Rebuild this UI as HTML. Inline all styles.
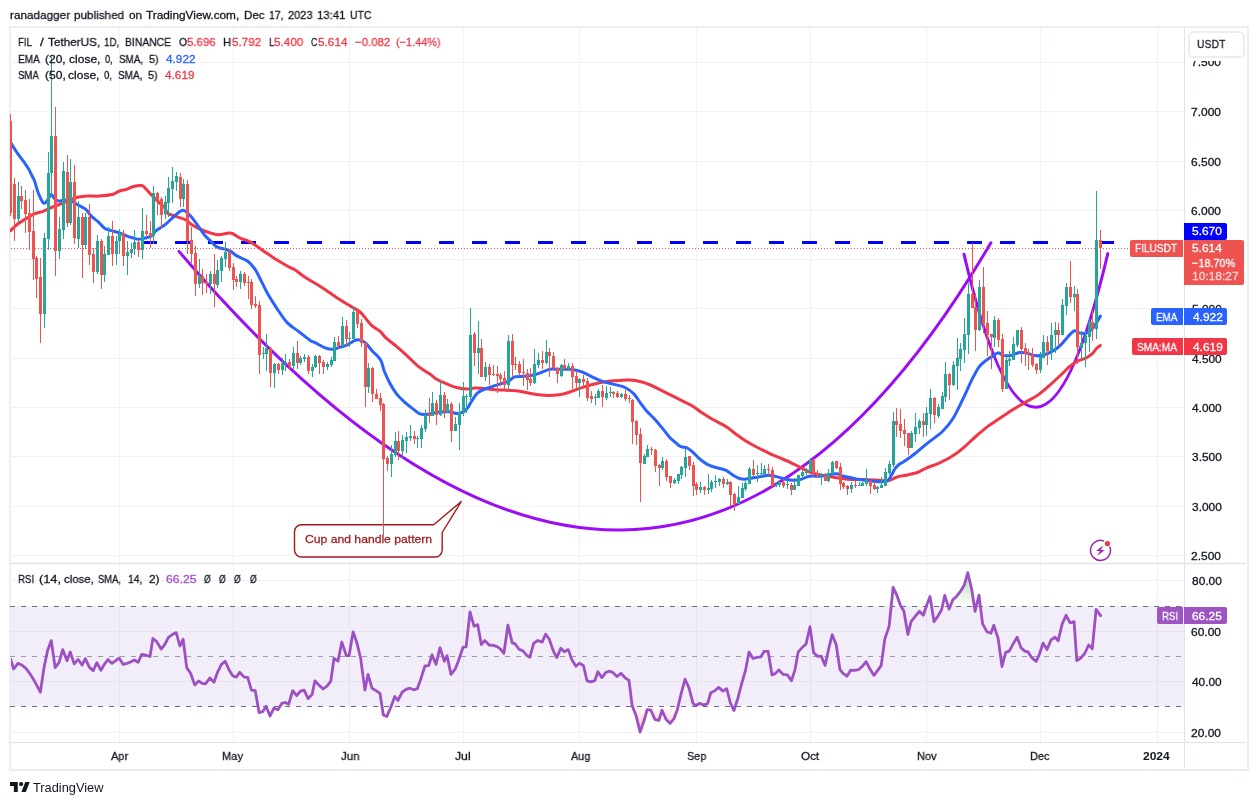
<!DOCTYPE html>
<html><head><meta charset="utf-8"><title>FIL chart</title>
<style>
html,body{margin:0;padding:0;background:#fff;}
body{width:1258px;height:805px;position:relative;overflow:hidden;font-family:"Liberation Sans",sans-serif;color:#131722;}
.t{position:absolute;white-space:nowrap;line-height:1;}
.frame{position:absolute;left:9px;top:26px;width:1236px;height:741px;border:2px solid #eceef4;box-sizing:content-box;}
svg{position:absolute;left:0;top:0;}
.g{stroke:#f1f3f3;stroke-width:1;shape-rendering:crispEdges;}
.ax{font-size:12px;color:#131722;}
.lab{position:absolute;color:#fff;font-size:12.5px;line-height:16px;height:16px;box-sizing:border-box;white-space:nowrap;}
.r{color:#f23645}.b{color:#2962ff}.p{color:#9c27b0}
</style></head><body>
<div class="frame"></div>
<svg width="1258" height="805" viewBox="0 0 1258 805">
<line x1="11" y1="62.5" x2="1185" y2="62.5" class="g"/>
<line x1="11" y1="111.5" x2="1185" y2="111.5" class="g"/>
<line x1="11" y1="161.5" x2="1185" y2="161.5" class="g"/>
<line x1="11" y1="210.5" x2="1185" y2="210.5" class="g"/>
<line x1="11" y1="259.5" x2="1185" y2="259.5" class="g"/>
<line x1="11" y1="308.5" x2="1185" y2="308.5" class="g"/>
<line x1="11" y1="358.5" x2="1185" y2="358.5" class="g"/>
<line x1="11" y1="407.5" x2="1185" y2="407.5" class="g"/>
<line x1="11" y1="456.5" x2="1185" y2="456.5" class="g"/>
<line x1="11" y1="506.5" x2="1185" y2="506.5" class="g"/>
<line x1="11" y1="555.5" x2="1185" y2="555.5" class="g"/>
<line x1="11" y1="580.5" x2="1185" y2="580.5" class="g"/>
<line x1="11" y1="631.5" x2="1185" y2="631.5" class="g"/>
<line x1="11" y1="681.5" x2="1185" y2="681.5" class="g"/>
<line x1="11" y1="732.5" x2="1185" y2="732.5" class="g"/>
<line x1="119.5" y1="28" x2="119.5" y2="742" class="g"/>
<line x1="233.5" y1="28" x2="233.5" y2="742" class="g"/>
<line x1="349.5" y1="28" x2="349.5" y2="742" class="g"/>
<line x1="463.5" y1="28" x2="463.5" y2="742" class="g"/>
<line x1="579.5" y1="28" x2="579.5" y2="742" class="g"/>
<line x1="696.5" y1="28" x2="696.5" y2="742" class="g"/>
<line x1="810.5" y1="28" x2="810.5" y2="742" class="g"/>
<line x1="926.5" y1="28" x2="926.5" y2="742" class="g"/>
<line x1="1040.5" y1="28" x2="1040.5" y2="742" class="g"/>
<line x1="1157.5" y1="28" x2="1157.5" y2="742" class="g"/>
<rect x="11" y="606" width="1174" height="100.5" fill="#7e57c2" fill-opacity="0.1"/>
<line x1="10" y1="606.5" x2="1185" y2="606.5" stroke="#6a6d78" stroke-width="1" stroke-dasharray="5 6"/>
<line x1="10" y1="656.5" x2="1185" y2="656.5" stroke="#9a9da8" stroke-width="1" stroke-dasharray="5 6"/>
<line x1="10" y1="706.5" x2="1185" y2="706.5" stroke="#6a6d78" stroke-width="1" stroke-dasharray="5 6"/>
<clipPath id="cm"><rect x="10" y="28" width="1175" height="535"/></clipPath>
<clipPath id="cr"><rect x="11" y="565" width="1174" height="177"/></clipPath>
<line x1="142" y1="242.5" x2="1114" y2="242.5" stroke="#0000ff" stroke-width="3" stroke-dasharray="15 18" shape-rendering="crispEdges"/>
<g clip-path="url(#cm)" fill="none" stroke-linecap="round" stroke-linejoin="round">
<path d="M179 251.4 Q657.8 813 990.9 242.7" stroke="#9c0cf5" stroke-width="3"/>
<path d="M964 254.2 Q1035.4 560.7 1107.8 253.6" stroke="#9c0cf5" stroke-width="3"/>
</g>
<path d="M301.5 524.7 H433.7 L461.3 501.5 L442.2 532.5 V550 a7 7 0 0 1 -7 7 H301.5 a7 7 0 0 1 -7 -7 V531.7 a7 7 0 0 1 7 -7 Z" fill="#ffffff" fill-opacity="0.7" stroke="#a3191c" stroke-width="1.4" stroke-linejoin="round"/>
<g clip-path="url(#cm)" fill="none" stroke-linecap="round" stroke-linejoin="round">
<path d="M10.1 231.0 C11.4 229.8 14.9 226.1 17.7 224.0 C20.4 221.9 23.8 220.0 26.6 218.3 C29.4 216.6 31.5 215.1 34.3 213.9 C37.1 212.7 40.4 212.4 43.2 211.3 C46.1 210.2 48.6 208.7 51.4 207.5 C54.1 206.3 56.8 205.5 59.7 204.3 C62.6 203.1 65.6 201.7 68.6 200.5 C71.6 199.3 74.3 198.0 77.5 197.3 C80.7 196.6 84.1 196.3 87.7 196.1 C91.3 195.9 94.9 196.4 99.1 196.1 C103.3 195.8 109.7 195.0 113.1 194.2 C116.5 193.3 117.2 191.8 119.5 191.0 C121.8 190.2 124.8 189.8 127.1 189.1 C129.4 188.3 131.1 187.1 133.5 186.5 C135.9 185.9 139.6 185.1 141.7 185.5 C143.8 185.9 144.6 187.5 146.2 189.1 C147.8 190.7 149.4 192.8 151.3 194.8 C153.2 196.8 155.3 199.0 157.6 201.2 C159.9 203.4 163.3 206.2 165.0 208.2 C166.7 210.2 165.7 212.0 167.6 213.4 C169.5 214.8 173.5 215.5 176.5 216.6 C179.5 217.7 182.6 218.3 185.4 219.8 C188.2 221.3 190.3 223.8 193.1 225.5 C195.9 227.2 199.0 228.7 202.0 230.0 C205.0 231.3 208.2 232.3 210.9 233.1 C213.7 233.9 215.5 234.8 218.5 234.8 C221.5 234.8 226.3 233.3 228.7 233.1 C231.1 232.9 231.2 233.0 233.1 233.8 C235.0 234.7 237.6 237.0 240.1 238.2 C242.6 239.4 245.2 239.6 247.8 240.8 C250.4 242.0 252.4 243.3 255.4 245.2 C258.4 247.1 262.4 250.2 265.6 252.4 C268.8 254.6 271.1 256.2 274.5 258.4 C277.9 260.5 282.5 263.4 285.9 265.3 C289.3 267.2 291.4 267.7 294.8 269.8 C298.2 271.9 302.1 275.4 306.3 278.1 C310.5 280.9 314.3 282.7 320.0 286.3 C325.7 289.9 335.1 296.6 340.4 300.0 C345.7 303.4 348.5 304.9 351.9 307.0 C355.3 309.1 357.6 309.7 360.8 312.7 C364.0 315.7 367.8 321.7 371.0 324.8 C374.2 327.9 377.4 329.0 379.9 331.2 C382.4 333.4 383.4 335.7 386.2 338.2 C388.9 340.7 393.0 343.5 396.4 346.4 C399.8 349.2 403.0 352.0 406.6 355.3 C410.2 358.6 414.2 363.0 418.0 366.1 C421.8 369.2 426.3 371.6 429.5 373.8 C432.7 376.0 433.9 377.7 437.1 379.5 C440.3 381.3 445.1 383.2 448.5 384.6 C451.9 386.0 454.4 387.1 457.4 387.8 C460.4 388.5 463.4 389.0 466.3 389.0 C469.2 389.0 472.3 388.1 475.0 388.0 C477.7 387.9 479.3 388.1 482.7 388.4 C486.1 388.7 491.4 389.4 495.4 389.7 C499.4 390.0 503.1 390.1 506.9 390.3 C510.7 390.5 514.9 390.5 518.3 390.9 C521.7 391.3 523.8 392.1 527.2 392.8 C530.6 393.5 535.1 394.4 538.7 394.8 C542.3 395.2 545.5 395.4 548.9 395.4 C552.3 395.4 555.6 395.3 559.0 394.8 C562.4 394.3 565.8 393.3 569.2 392.2 C572.6 391.1 576.0 389.6 579.4 388.4 C582.8 387.2 586.2 386.1 589.6 385.2 C593.0 384.2 596.3 383.4 599.7 382.7 C603.1 382.0 606.5 381.4 609.9 381.0 C613.3 380.6 616.8 380.5 620.1 380.4 C623.5 380.2 626.7 379.9 630.0 380.1 C633.3 380.3 636.6 380.7 640.0 381.5 C643.4 382.3 646.5 383.4 650.4 385.0 C654.3 386.6 659.0 389.3 663.2 391.4 C667.5 393.5 671.2 395.4 675.9 397.7 C680.5 400.0 686.9 402.9 691.1 405.3 C695.3 407.7 697.9 410.1 701.3 412.3 C704.7 414.5 707.3 416.2 711.5 418.7 C715.7 421.1 722.7 424.4 726.7 427.0 C730.7 429.6 732.5 431.7 735.7 434.0 C738.9 436.3 742.0 438.7 745.8 441.0 C749.6 443.3 754.2 445.8 758.5 448.0 C762.8 450.2 767.7 452.7 771.3 454.3 C774.9 455.9 776.9 456.6 780.0 457.9 C783.1 459.2 787.0 460.8 790.2 462.3 C793.4 463.8 795.9 465.2 799.1 466.8 C802.3 468.4 806.1 470.6 809.3 471.9 C812.5 473.2 815.0 473.7 818.2 474.4 C821.4 475.1 824.7 475.7 828.3 476.3 C831.9 476.9 836.0 477.7 839.8 478.2 C843.6 478.7 847.4 479.3 851.2 479.5 C855.0 479.7 858.5 479.4 862.7 479.5 C867.0 479.6 872.5 479.9 876.7 480.1 C880.9 480.3 884.7 481.3 888.1 480.8 C891.5 480.3 893.8 478.0 897.0 477.0 C900.2 476.0 903.8 475.8 907.2 475.0 C910.6 474.2 914.2 473.6 917.4 472.5 C920.5 471.4 922.6 469.6 926.1 468.1 C929.6 466.6 934.4 465.1 938.5 463.3 C942.6 461.5 946.8 459.7 950.9 457.1 C955.0 454.5 959.3 451.2 963.4 447.8 C967.5 444.4 971.6 440.1 975.7 436.5 C979.8 432.9 984.1 429.2 988.2 426.1 C992.4 423.0 996.5 420.6 1000.6 417.8 C1004.7 415.1 1008.9 412.2 1013.0 409.6 C1017.1 407.0 1021.3 404.7 1025.4 402.3 C1029.5 399.9 1033.7 398.0 1037.8 395.1 C1041.9 392.2 1046.1 388.4 1050.2 384.8 C1054.3 381.2 1059.4 376.4 1062.6 373.4 C1065.8 370.3 1067.0 368.6 1069.6 366.5 C1072.1 364.4 1075.2 362.4 1077.9 361.0 C1080.7 359.6 1083.7 359.2 1086.1 358.0 C1088.5 356.8 1090.6 355.3 1092.3 353.7 C1094.0 352.1 1095.2 350.0 1096.5 348.6 C1097.8 347.2 1099.8 346.0 1100.4 345.5" stroke="#f23645" stroke-width="3"/>
<path d="M11.0 143.0 C11.2 143.3 10.9 142.9 12.0 144.7 C13.1 146.5 15.5 150.4 17.7 153.6 C19.9 156.8 23.4 161.1 25.3 163.8 C27.2 166.5 28.0 167.9 29.2 170.0 C30.4 172.1 31.4 174.8 32.3 176.5 C33.1 178.2 33.4 177.9 34.3 180.2 C35.1 182.5 36.6 188.0 37.4 190.5 C38.2 193.0 38.2 193.3 39.3 195.4 C40.4 197.5 42.3 202.7 43.8 203.3 C45.3 204.0 47.0 200.8 48.2 199.3 C49.4 197.8 49.8 194.2 51.0 194.2 C52.2 194.2 53.8 198.1 55.2 199.3 C56.7 200.5 58.2 201.1 59.7 201.2 C61.2 201.3 62.2 199.9 64.1 199.9 C66.0 199.9 68.8 200.3 71.1 201.2 C73.4 202.0 75.6 203.6 78.1 205.0 C80.5 206.4 83.6 207.5 85.8 209.4 C88.0 211.3 89.4 214.3 91.5 216.4 C93.6 218.5 96.4 220.2 98.5 222.1 C100.6 224.0 102.2 226.5 104.2 227.9 C106.2 229.3 108.0 229.6 110.6 230.4 C113.1 231.2 116.8 232.1 119.5 233.0 C122.2 233.9 124.8 235.3 127.1 236.1 C129.4 236.9 131.6 237.5 133.5 238.0 C135.4 238.5 136.6 239.3 138.5 239.3 C140.4 239.3 142.8 238.5 144.9 238.0 C147.0 237.5 149.5 237.3 151.3 236.1 C153.1 234.9 154.2 232.4 155.7 231.0 C157.2 229.6 158.4 229.1 160.2 227.9 C162.0 226.7 163.9 225.7 166.4 223.6 C168.9 221.5 172.6 217.5 175.3 215.3 C178.1 213.1 180.4 210.1 182.9 210.2 C185.4 210.3 187.9 213.3 190.5 216.0 C193.1 218.7 195.9 222.9 198.2 226.1 C200.5 229.3 202.4 232.4 204.5 235.0 C206.6 237.6 208.8 239.4 210.9 241.4 C213.0 243.4 214.7 245.8 217.2 247.1 C219.7 248.4 223.8 248.8 226.1 249.5 C228.4 250.2 229.5 250.6 231.2 251.6 C232.9 252.6 233.5 254.0 236.3 255.6 C239.1 257.2 244.6 258.9 247.8 261.3 C251.0 263.7 253.1 266.4 255.4 269.8 C257.7 273.2 259.6 277.8 261.7 281.9 C263.8 286.0 265.6 290.2 268.1 294.6 C270.7 299.1 273.8 303.9 277.0 308.6 C280.2 313.3 283.6 318.8 287.2 322.6 C290.8 326.4 294.8 328.5 298.6 331.5 C302.4 334.5 307.4 338.5 310.1 340.4 C312.8 342.2 312.7 341.5 315.0 342.6 C317.3 343.8 321.2 346.2 323.9 347.3 C326.5 348.4 328.5 349.2 330.9 349.3 C333.3 349.4 335.9 348.4 338.5 347.7 C341.1 347.0 344.4 346.2 346.8 345.1 C349.2 344.0 351.3 342.2 353.2 341.3 C355.1 340.4 356.2 339.5 358.2 339.7 C360.2 339.9 362.9 340.7 365.2 342.6 C367.5 344.5 369.6 348.0 372.2 350.9 C374.8 353.8 378.5 356.4 380.5 359.8 C382.5 363.2 382.7 367.2 384.3 371.2 C385.9 375.1 388.0 379.8 390.0 383.5 C392.0 387.2 394.1 390.7 396.4 393.7 C398.7 396.7 401.4 399.2 404.0 401.6 C406.6 404.0 409.1 405.9 411.7 407.9 C414.2 409.9 417.0 412.5 419.3 413.6 C421.6 414.7 422.7 414.7 425.7 414.5 C428.7 414.3 433.3 412.8 437.1 412.3 C440.9 411.8 445.1 411.5 448.5 411.7 C451.9 411.9 454.8 413.6 457.4 413.6 C459.9 413.6 462.1 412.6 463.8 411.7 C465.5 410.8 466.3 409.6 467.6 407.9 C468.9 406.2 469.7 404.0 471.4 401.5 C473.1 399.0 475.1 395.0 477.6 392.8 C480.1 390.6 483.1 389.8 486.5 388.4 C489.9 387.0 494.4 385.8 498.0 384.6 C501.6 383.4 505.4 382.7 508.2 381.4 C510.9 380.1 512.0 377.8 514.5 376.9 C517.0 376.0 520.2 376.6 523.4 376.3 C526.6 376.0 530.6 375.6 533.6 375.0 C536.6 374.4 538.5 373.4 541.2 372.5 C544.0 371.6 547.1 369.8 550.1 369.3 C553.1 368.8 555.8 369.3 559.0 369.3 C562.2 369.3 565.4 368.9 569.2 369.3 C573.0 369.7 578.1 370.6 581.9 371.9 C585.7 373.2 588.7 375.3 592.1 376.9 C595.5 378.5 598.5 380.1 602.3 381.4 C606.1 382.7 611.2 383.6 615.0 384.6 C618.8 385.6 621.9 385.9 625.0 387.5 C628.1 389.1 631.4 391.3 633.9 393.9 C636.4 396.4 638.2 399.9 640.3 402.8 C642.4 405.7 644.3 408.5 646.6 411.1 C648.9 413.8 651.8 415.9 654.3 418.7 C656.8 421.4 659.4 424.5 661.9 427.6 C664.4 430.7 667.2 434.6 669.5 437.2 C671.8 439.8 674.0 441.3 675.9 442.9 C677.8 444.5 679.1 445.8 681.0 446.7 C682.9 447.6 685.4 447.1 687.3 448.0 C689.2 448.9 690.5 450.1 692.4 451.8 C694.3 453.5 696.5 456.1 698.8 458.1 C701.1 460.1 703.9 462.4 706.4 463.9 C708.9 465.4 710.8 465.9 714.0 467.0 C717.2 468.1 722.3 468.8 725.5 470.2 C728.7 471.6 730.8 473.9 733.1 475.3 C735.4 476.7 737.4 477.9 739.5 478.5 C741.6 479.1 743.5 479.2 745.8 479.1 C748.1 479.0 751.0 478.2 753.5 477.8 C756.0 477.4 758.6 477.0 761.1 476.6 C763.6 476.2 766.2 475.3 768.7 475.3 C771.2 475.3 774.5 476.2 776.4 476.6 C778.3 477.0 777.7 477.0 780.0 477.6 C782.3 478.2 786.8 479.8 790.2 480.1 C793.6 480.4 797.1 480.1 800.3 479.5 C803.5 478.9 805.7 476.9 809.3 476.3 C812.9 475.7 817.5 476.5 822.0 476.1 C826.5 475.7 832.4 473.8 836.0 473.8 C839.6 473.8 840.2 475.5 843.6 476.3 C847.0 477.1 852.1 478.1 856.3 478.9 C860.5 479.6 865.0 480.3 869.0 480.8 C873.0 481.3 877.3 481.8 880.5 481.7 C883.7 481.6 886.3 481.3 888.1 480.2 C889.9 479.1 890.3 476.9 891.5 475.0 C892.7 473.1 893.9 470.2 895.1 468.5 C896.4 466.8 897.5 465.7 899.0 464.5 C900.5 463.3 901.6 463.2 904.4 461.3 C907.2 459.4 911.8 456.1 915.8 453.0 C919.8 449.9 923.7 446.2 928.2 442.6 C932.7 439.0 938.6 435.3 942.7 431.3 C946.8 427.3 949.5 424.1 953.0 418.5 C956.5 412.9 960.6 403.9 963.6 397.7 C966.6 391.5 968.7 386.2 971.2 381.1 C973.8 376.0 976.4 370.6 978.9 367.1 C981.4 363.6 984.0 362.2 986.5 360.2 C989.0 358.2 992.1 356.3 994.1 355.1 C996.1 353.9 997.1 352.8 998.6 352.8 C1000.1 352.9 1001.0 355.0 1003.0 355.4 C1005.0 355.8 1007.9 355.9 1010.7 355.4 C1013.5 354.9 1016.9 352.9 1019.6 352.5 C1022.4 352.1 1024.4 352.6 1027.2 353.2 C1030.0 353.8 1033.4 355.6 1036.5 355.8 C1039.6 356.0 1042.7 355.3 1045.8 354.3 C1048.9 353.3 1052.5 351.2 1055.1 349.6 C1057.7 348.0 1059.2 346.5 1061.3 344.4 C1063.4 342.3 1065.3 339.5 1067.5 337.2 C1069.7 334.9 1072.2 331.5 1074.3 330.8 C1076.4 330.1 1077.9 332.7 1079.9 333.1 C1081.9 333.5 1084.2 333.6 1086.1 333.1 C1088.0 332.6 1089.6 331.7 1091.3 330.0 C1093.0 328.3 1095.0 325.0 1096.5 322.7 C1098.0 320.4 1099.8 317.1 1100.4 316.0" stroke="#2962ff" stroke-width="3"/>
</g>
<g clip-path="url(#cm)" shape-rendering="crispEdges">
<rect x="10" y="114.0" width="1" height="102.0" fill="#ef5350"/>
<rect x="9" y="121.0" width="3" height="92.0" fill="#ef5350"/>
<rect x="14" y="178.0" width="1" height="62.6" fill="#ef5350"/>
<rect x="13" y="184.0" width="3" height="35.0" fill="#ef5350"/>
<rect x="18" y="182.0" width="1" height="39.5" fill="#26a69a"/>
<rect x="17" y="196.0" width="3" height="22.7" fill="#26a69a"/>
<rect x="21" y="186.0" width="1" height="22.8" fill="#ef5350"/>
<rect x="20" y="196.0" width="3" height="5.0" fill="#ef5350"/>
<rect x="25" y="190.0" width="1" height="42.6" fill="#ef5350"/>
<rect x="24" y="200.0" width="3" height="14.0" fill="#ef5350"/>
<rect x="29" y="199.0" width="1" height="50.5" fill="#ef5350"/>
<rect x="28" y="213.0" width="3" height="19.0" fill="#ef5350"/>
<rect x="33" y="190.0" width="1" height="89.9" fill="#ef5350"/>
<rect x="32" y="231.0" width="3" height="27.6" fill="#ef5350"/>
<rect x="36" y="255.7" width="1" height="42.0" fill="#ef5350"/>
<rect x="35" y="258.3" width="3" height="20.3" fill="#ef5350"/>
<rect x="40" y="258.3" width="1" height="84.5" fill="#ef5350"/>
<rect x="39" y="277.0" width="3" height="36.6" fill="#ef5350"/>
<rect x="44" y="233.0" width="1" height="94.8" fill="#26a69a"/>
<rect x="43" y="238.0" width="3" height="75.6" fill="#26a69a"/>
<rect x="48" y="152.0" width="1" height="97.5" fill="#26a69a"/>
<rect x="47" y="173.3" width="3" height="65.4" fill="#26a69a"/>
<rect x="51" y="57.0" width="1" height="139.0" fill="#26a69a"/>
<rect x="50" y="136.0" width="3" height="37.3" fill="#26a69a"/>
<rect x="55" y="107.0" width="1" height="168.8" fill="#ef5350"/>
<rect x="54" y="136.0" width="3" height="114.6" fill="#ef5350"/>
<rect x="59" y="217.3" width="1" height="41.6" fill="#26a69a"/>
<rect x="58" y="229.0" width="3" height="21.8" fill="#26a69a"/>
<rect x="63" y="162.0" width="1" height="76.7" fill="#26a69a"/>
<rect x="62" y="171.0" width="3" height="58.5" fill="#26a69a"/>
<rect x="67" y="155.0" width="1" height="71.6" fill="#ef5350"/>
<rect x="66" y="172.3" width="3" height="50.5" fill="#ef5350"/>
<rect x="70" y="159.0" width="1" height="65.7" fill="#26a69a"/>
<rect x="69" y="182.0" width="3" height="40.8" fill="#26a69a"/>
<rect x="74" y="165.0" width="1" height="78.8" fill="#ef5350"/>
<rect x="73" y="182.0" width="3" height="55.8" fill="#ef5350"/>
<rect x="78" y="201.0" width="1" height="46.8" fill="#26a69a"/>
<rect x="77" y="217.0" width="3" height="21.7" fill="#26a69a"/>
<rect x="82" y="212.6" width="1" height="65.1" fill="#ef5350"/>
<rect x="81" y="217.0" width="3" height="27.7" fill="#ef5350"/>
<rect x="85" y="213.0" width="1" height="35.6" fill="#26a69a"/>
<rect x="84" y="217.0" width="3" height="27.7" fill="#26a69a"/>
<rect x="89" y="204.0" width="1" height="60.7" fill="#ef5350"/>
<rect x="88" y="217.0" width="3" height="37.6" fill="#ef5350"/>
<rect x="93" y="247.6" width="1" height="35.2" fill="#ef5350"/>
<rect x="92" y="254.0" width="3" height="17.6" fill="#ef5350"/>
<rect x="97" y="235.0" width="1" height="38.9" fill="#26a69a"/>
<rect x="96" y="241.2" width="3" height="30.4" fill="#26a69a"/>
<rect x="101" y="239.3" width="1" height="49.5" fill="#ef5350"/>
<rect x="100" y="241.2" width="3" height="34.2" fill="#ef5350"/>
<rect x="104" y="246.3" width="1" height="35.5" fill="#26a69a"/>
<rect x="103" y="254.0" width="3" height="20.5" fill="#26a69a"/>
<rect x="108" y="227.2" width="1" height="27.4" fill="#26a69a"/>
<rect x="107" y="236.0" width="3" height="18.6" fill="#26a69a"/>
<rect x="112" y="221.0" width="1" height="44.8" fill="#ef5350"/>
<rect x="111" y="236.0" width="3" height="17.8" fill="#ef5350"/>
<rect x="116" y="236.0" width="1" height="28.7" fill="#26a69a"/>
<rect x="115" y="241.0" width="3" height="12.8" fill="#26a69a"/>
<rect x="119" y="229.0" width="1" height="24.6" fill="#26a69a"/>
<rect x="118" y="233.2" width="3" height="8.0" fill="#26a69a"/>
<rect x="123" y="229.8" width="1" height="36.0" fill="#ef5350"/>
<rect x="122" y="233.2" width="3" height="22.6" fill="#ef5350"/>
<rect x="127" y="241.2" width="1" height="33.6" fill="#26a69a"/>
<rect x="126" y="252.3" width="3" height="3.5" fill="#26a69a"/>
<rect x="131" y="243.0" width="1" height="14.7" fill="#26a69a"/>
<rect x="130" y="248.6" width="3" height="4.0" fill="#26a69a"/>
<rect x="134" y="230.0" width="1" height="24.7" fill="#26a69a"/>
<rect x="133" y="242.2" width="3" height="6.4" fill="#26a69a"/>
<rect x="138" y="241.2" width="1" height="15.4" fill="#ef5350"/>
<rect x="137" y="242.2" width="3" height="7.3" fill="#ef5350"/>
<rect x="142" y="207.9" width="1" height="50.9" fill="#26a69a"/>
<rect x="141" y="231.0" width="3" height="18.5" fill="#26a69a"/>
<rect x="146" y="214.9" width="1" height="20.6" fill="#ef5350"/>
<rect x="145" y="231.0" width="3" height="3.0" fill="#ef5350"/>
<rect x="150" y="221.0" width="1" height="26.8" fill="#ef5350"/>
<rect x="149" y="233.2" width="3" height="2.7" fill="#ef5350"/>
<rect x="153" y="186.0" width="1" height="57.8" fill="#26a69a"/>
<rect x="152" y="192.9" width="3" height="43.0" fill="#26a69a"/>
<rect x="157" y="191.6" width="1" height="22.9" fill="#ef5350"/>
<rect x="156" y="193.0" width="3" height="6.9" fill="#ef5350"/>
<rect x="161" y="196.9" width="1" height="31.8" fill="#ef5350"/>
<rect x="160" y="199.2" width="3" height="15.5" fill="#ef5350"/>
<rect x="165" y="196.0" width="1" height="22.8" fill="#26a69a"/>
<rect x="164" y="202.0" width="3" height="11.7" fill="#26a69a"/>
<rect x="168" y="176.9" width="1" height="39.7" fill="#26a69a"/>
<rect x="167" y="188.0" width="3" height="14.6" fill="#26a69a"/>
<rect x="172" y="167.0" width="1" height="36.0" fill="#26a69a"/>
<rect x="171" y="181.0" width="3" height="7.6" fill="#26a69a"/>
<rect x="176" y="172.0" width="1" height="18.9" fill="#26a69a"/>
<rect x="175" y="175.9" width="3" height="6.0" fill="#26a69a"/>
<rect x="180" y="173.0" width="1" height="33.8" fill="#ef5350"/>
<rect x="179" y="176.9" width="3" height="21.9" fill="#ef5350"/>
<rect x="183" y="179.0" width="1" height="27.8" fill="#26a69a"/>
<rect x="182" y="184.2" width="3" height="14.6" fill="#26a69a"/>
<rect x="187" y="180.0" width="1" height="73.6" fill="#ef5350"/>
<rect x="186" y="183.8" width="3" height="57.6" fill="#ef5350"/>
<rect x="191" y="227.2" width="1" height="35.6" fill="#ef5350"/>
<rect x="190" y="240.1" width="3" height="13.5" fill="#ef5350"/>
<rect x="195" y="246.3" width="1" height="49.6" fill="#ef5350"/>
<rect x="194" y="252.9" width="3" height="30.6" fill="#ef5350"/>
<rect x="199" y="259.2" width="1" height="28.4" fill="#26a69a"/>
<rect x="198" y="275.9" width="3" height="7.6" fill="#26a69a"/>
<rect x="202" y="269.2" width="1" height="25.4" fill="#ef5350"/>
<rect x="201" y="276.2" width="3" height="6.3" fill="#ef5350"/>
<rect x="206" y="274.3" width="1" height="18.4" fill="#ef5350"/>
<rect x="205" y="281.9" width="3" height="1.9" fill="#ef5350"/>
<rect x="210" y="271.0" width="1" height="22.7" fill="#26a69a"/>
<rect x="209" y="274.0" width="3" height="9.8" fill="#26a69a"/>
<rect x="214" y="254.2" width="1" height="52.5" fill="#ef5350"/>
<rect x="213" y="274.0" width="3" height="10.4" fill="#ef5350"/>
<rect x="217" y="260.3" width="1" height="27.3" fill="#26a69a"/>
<rect x="216" y="270.2" width="3" height="14.5" fill="#26a69a"/>
<rect x="221" y="256.2" width="1" height="25.7" fill="#26a69a"/>
<rect x="220" y="258.1" width="3" height="12.7" fill="#26a69a"/>
<rect x="225" y="242.0" width="1" height="24.6" fill="#26a69a"/>
<rect x="224" y="252.2" width="3" height="6.5" fill="#26a69a"/>
<rect x="229" y="248.5" width="1" height="22.3" fill="#ef5350"/>
<rect x="228" y="252.0" width="3" height="15.9" fill="#ef5350"/>
<rect x="233" y="263.2" width="1" height="26.6" fill="#ef5350"/>
<rect x="232" y="267.3" width="3" height="12.3" fill="#ef5350"/>
<rect x="236" y="275.9" width="1" height="10.8" fill="#ef5350"/>
<rect x="235" y="279.1" width="3" height="2.8" fill="#ef5350"/>
<rect x="240" y="271.1" width="1" height="17.8" fill="#26a69a"/>
<rect x="239" y="274.3" width="3" height="7.6" fill="#26a69a"/>
<rect x="244" y="272.1" width="1" height="13.6" fill="#ef5350"/>
<rect x="243" y="274.3" width="3" height="8.5" fill="#ef5350"/>
<rect x="248" y="276.2" width="1" height="22.5" fill="#ef5350"/>
<rect x="247" y="281.9" width="3" height="1.0" fill="#ef5350"/>
<rect x="251" y="279.1" width="1" height="29.5" fill="#ef5350"/>
<rect x="250" y="281.9" width="3" height="22.9" fill="#ef5350"/>
<rect x="255" y="296.1" width="1" height="11.6" fill="#ef5350"/>
<rect x="254" y="304.1" width="3" height="1.7" fill="#ef5350"/>
<rect x="259" y="301.0" width="1" height="72.9" fill="#ef5350"/>
<rect x="258" y="305.0" width="3" height="49.5" fill="#ef5350"/>
<rect x="263" y="347.2" width="1" height="11.4" fill="#26a69a"/>
<rect x="262" y="352.9" width="3" height="1.0" fill="#26a69a"/>
<rect x="266" y="334.1" width="1" height="36.6" fill="#26a69a"/>
<rect x="265" y="348.2" width="3" height="5.7" fill="#26a69a"/>
<rect x="270" y="347.2" width="1" height="39.4" fill="#ef5350"/>
<rect x="269" y="348.2" width="3" height="24.4" fill="#ef5350"/>
<rect x="274" y="363.1" width="1" height="24.8" fill="#26a69a"/>
<rect x="273" y="364.1" width="3" height="8.5" fill="#26a69a"/>
<rect x="278" y="362.8" width="1" height="10.8" fill="#ef5350"/>
<rect x="277" y="364.1" width="3" height="5.7" fill="#ef5350"/>
<rect x="282" y="358.0" width="1" height="16.8" fill="#26a69a"/>
<rect x="281" y="362.8" width="3" height="7.0" fill="#26a69a"/>
<rect x="285" y="353.9" width="1" height="16.8" fill="#26a69a"/>
<rect x="284" y="362.4" width="3" height="1.0" fill="#26a69a"/>
<rect x="289" y="359.0" width="1" height="10.7" fill="#ef5350"/>
<rect x="288" y="362.4" width="3" height="3.6" fill="#ef5350"/>
<rect x="293" y="346.9" width="1" height="21.9" fill="#26a69a"/>
<rect x="292" y="353.3" width="3" height="12.3" fill="#26a69a"/>
<rect x="297" y="341.2" width="1" height="27.6" fill="#ef5350"/>
<rect x="296" y="353.3" width="3" height="9.5" fill="#ef5350"/>
<rect x="300" y="356.1" width="1" height="8.6" fill="#26a69a"/>
<rect x="299" y="358.4" width="3" height="4.4" fill="#26a69a"/>
<rect x="304" y="353.9" width="1" height="7.9" fill="#26a69a"/>
<rect x="303" y="357.1" width="3" height="1.5" fill="#26a69a"/>
<rect x="308" y="355.2" width="1" height="18.7" fill="#ef5350"/>
<rect x="307" y="357.1" width="3" height="13.6" fill="#ef5350"/>
<rect x="312" y="364.1" width="1" height="12.7" fill="#26a69a"/>
<rect x="311" y="367.3" width="3" height="3.4" fill="#26a69a"/>
<rect x="315" y="355.2" width="1" height="12.8" fill="#26a69a"/>
<rect x="314" y="356.1" width="3" height="11.3" fill="#26a69a"/>
<rect x="319" y="354.9" width="1" height="18.9" fill="#ef5350"/>
<rect x="318" y="356.2" width="3" height="6.8" fill="#ef5350"/>
<rect x="323" y="360.0" width="1" height="13.8" fill="#ef5350"/>
<rect x="322" y="361.9" width="3" height="4.9" fill="#ef5350"/>
<rect x="327" y="362.0" width="1" height="7.7" fill="#26a69a"/>
<rect x="326" y="364.0" width="3" height="2.8" fill="#26a69a"/>
<rect x="331" y="357.0" width="1" height="9.8" fill="#26a69a"/>
<rect x="330" y="360.0" width="3" height="4.9" fill="#26a69a"/>
<rect x="334" y="336.9" width="1" height="24.1" fill="#26a69a"/>
<rect x="333" y="342.4" width="3" height="18.4" fill="#26a69a"/>
<rect x="338" y="336.0" width="1" height="13.0" fill="#ef5350"/>
<rect x="337" y="342.4" width="3" height="3.1" fill="#ef5350"/>
<rect x="342" y="316.9" width="1" height="30.5" fill="#26a69a"/>
<rect x="341" y="326.1" width="3" height="19.7" fill="#26a69a"/>
<rect x="346" y="320.1" width="1" height="26.7" fill="#ef5350"/>
<rect x="345" y="326.1" width="3" height="13.3" fill="#ef5350"/>
<rect x="349" y="332.0" width="1" height="14.8" fill="#26a69a"/>
<rect x="348" y="337.9" width="3" height="1.0" fill="#26a69a"/>
<rect x="353" y="306.1" width="1" height="32.9" fill="#26a69a"/>
<rect x="352" y="311.7" width="3" height="27.1" fill="#26a69a"/>
<rect x="357" y="309.9" width="1" height="17.8" fill="#ef5350"/>
<rect x="356" y="310.8" width="3" height="12.7" fill="#ef5350"/>
<rect x="361" y="319.1" width="1" height="27.7" fill="#ef5350"/>
<rect x="360" y="322.9" width="3" height="20.1" fill="#ef5350"/>
<rect x="365" y="342.0" width="1" height="64.9" fill="#ef5350"/>
<rect x="364" y="342.6" width="3" height="44.3" fill="#ef5350"/>
<rect x="368" y="363.0" width="1" height="29.9" fill="#26a69a"/>
<rect x="367" y="368.0" width="3" height="18.9" fill="#26a69a"/>
<rect x="372" y="367.0" width="1" height="34.9" fill="#ef5350"/>
<rect x="371" y="368.0" width="3" height="25.7" fill="#ef5350"/>
<rect x="376" y="389.0" width="1" height="10.0" fill="#ef5350"/>
<rect x="375" y="394.2" width="3" height="4.6" fill="#ef5350"/>
<rect x="380" y="392.9" width="1" height="17.9" fill="#ef5350"/>
<rect x="379" y="397.8" width="3" height="6.9" fill="#ef5350"/>
<rect x="383" y="402.8" width="1" height="131.8" fill="#ef5350"/>
<rect x="382" y="403.8" width="3" height="55.0" fill="#ef5350"/>
<rect x="387" y="456.0" width="1" height="14.9" fill="#ef5350"/>
<rect x="386" y="458.1" width="3" height="5.8" fill="#ef5350"/>
<rect x="391" y="445.0" width="1" height="31.8" fill="#26a69a"/>
<rect x="390" y="454.3" width="3" height="9.6" fill="#26a69a"/>
<rect x="395" y="432.1" width="1" height="24.8" fill="#26a69a"/>
<rect x="394" y="441.0" width="3" height="14.0" fill="#26a69a"/>
<rect x="398" y="431.0" width="1" height="28.8" fill="#ef5350"/>
<rect x="397" y="441.0" width="3" height="9.9" fill="#ef5350"/>
<rect x="402" y="435.0" width="1" height="23.8" fill="#26a69a"/>
<rect x="401" y="439.9" width="3" height="11.0" fill="#26a69a"/>
<rect x="406" y="432.1" width="1" height="20.7" fill="#26a69a"/>
<rect x="405" y="436.9" width="3" height="4.1" fill="#26a69a"/>
<rect x="410" y="425.1" width="1" height="15.9" fill="#26a69a"/>
<rect x="409" y="435.9" width="3" height="1.9" fill="#26a69a"/>
<rect x="414" y="431.0" width="1" height="12.9" fill="#ef5350"/>
<rect x="413" y="435.9" width="3" height="2.8" fill="#ef5350"/>
<rect x="417" y="435.9" width="1" height="12.1" fill="#26a69a"/>
<rect x="416" y="437.8" width="3" height="1.0" fill="#26a69a"/>
<rect x="421" y="425.1" width="1" height="22.9" fill="#26a69a"/>
<rect x="420" y="428.0" width="3" height="10.7" fill="#26a69a"/>
<rect x="425" y="410.2" width="1" height="21.6" fill="#26a69a"/>
<rect x="424" y="414.9" width="3" height="14.0" fill="#26a69a"/>
<rect x="429" y="397.7" width="1" height="25.2" fill="#ef5350"/>
<rect x="428" y="414.3" width="3" height="1.6" fill="#ef5350"/>
<rect x="432" y="392.0" width="1" height="24.0" fill="#26a69a"/>
<rect x="431" y="402.8" width="3" height="13.1" fill="#26a69a"/>
<rect x="436" y="400.0" width="1" height="24.8" fill="#ef5350"/>
<rect x="435" y="402.8" width="3" height="12.1" fill="#ef5350"/>
<rect x="440" y="380.1" width="1" height="35.8" fill="#26a69a"/>
<rect x="439" y="394.9" width="3" height="20.0" fill="#26a69a"/>
<rect x="444" y="392.0" width="1" height="25.8" fill="#ef5350"/>
<rect x="443" y="394.9" width="3" height="17.2" fill="#ef5350"/>
<rect x="447" y="399.0" width="1" height="13.5" fill="#26a69a"/>
<rect x="446" y="404.1" width="3" height="8.0" fill="#26a69a"/>
<rect x="451" y="401.9" width="1" height="40.1" fill="#ef5350"/>
<rect x="450" y="404.1" width="3" height="26.7" fill="#ef5350"/>
<rect x="455" y="417.0" width="1" height="14.0" fill="#26a69a"/>
<rect x="454" y="424.2" width="3" height="6.6" fill="#26a69a"/>
<rect x="459" y="403.0" width="1" height="46.9" fill="#26a69a"/>
<rect x="458" y="412.1" width="3" height="13.0" fill="#26a69a"/>
<rect x="463" y="382.0" width="1" height="33.9" fill="#26a69a"/>
<rect x="462" y="396.0" width="3" height="16.1" fill="#26a69a"/>
<rect x="466" y="393.9" width="1" height="19.1" fill="#26a69a"/>
<rect x="465" y="396.0" width="3" height="1.1" fill="#26a69a"/>
<rect x="470" y="307.9" width="1" height="92.4" fill="#26a69a"/>
<rect x="469" y="334.6" width="3" height="61.9" fill="#26a69a"/>
<rect x="474" y="332.0" width="1" height="33.5" fill="#ef5350"/>
<rect x="473" y="334.1" width="3" height="19.3" fill="#ef5350"/>
<rect x="478" y="321.0" width="1" height="53.4" fill="#26a69a"/>
<rect x="477" y="348.3" width="3" height="5.1" fill="#26a69a"/>
<rect x="481" y="339.0" width="1" height="38.0" fill="#ef5350"/>
<rect x="480" y="348.3" width="3" height="28.3" fill="#ef5350"/>
<rect x="485" y="361.9" width="1" height="18.6" fill="#26a69a"/>
<rect x="484" y="367.2" width="3" height="9.4" fill="#26a69a"/>
<rect x="489" y="364.0" width="1" height="20.6" fill="#ef5350"/>
<rect x="488" y="367.2" width="3" height="7.5" fill="#ef5350"/>
<rect x="493" y="365.1" width="1" height="11.0" fill="#ef5350"/>
<rect x="492" y="373.8" width="3" height="1.2" fill="#ef5350"/>
<rect x="497" y="366.1" width="1" height="26.5" fill="#ef5350"/>
<rect x="496" y="374.1" width="3" height="1.6" fill="#ef5350"/>
<rect x="500" y="373.1" width="1" height="12.4" fill="#ef5350"/>
<rect x="499" y="375.0" width="3" height="3.6" fill="#ef5350"/>
<rect x="504" y="371.2" width="1" height="17.4" fill="#ef5350"/>
<rect x="503" y="378.2" width="3" height="6.4" fill="#ef5350"/>
<rect x="508" y="335.0" width="1" height="53.6" fill="#26a69a"/>
<rect x="507" y="341.0" width="3" height="43.6" fill="#26a69a"/>
<rect x="512" y="334.1" width="1" height="42.8" fill="#ef5350"/>
<rect x="511" y="341.0" width="3" height="23.6" fill="#ef5350"/>
<rect x="515" y="357.0" width="1" height="12.7" fill="#ef5350"/>
<rect x="514" y="364.0" width="3" height="1.0" fill="#ef5350"/>
<rect x="519" y="361.0" width="1" height="15.3" fill="#ef5350"/>
<rect x="518" y="364.0" width="3" height="8.5" fill="#ef5350"/>
<rect x="523" y="359.1" width="1" height="26.4" fill="#ef5350"/>
<rect x="522" y="371.9" width="3" height="1.0" fill="#ef5350"/>
<rect x="527" y="369.1" width="1" height="20.6" fill="#ef5350"/>
<rect x="526" y="372.9" width="3" height="6.6" fill="#ef5350"/>
<rect x="530" y="368.0" width="1" height="17.5" fill="#ef5350"/>
<rect x="529" y="378.9" width="3" height="3.8" fill="#ef5350"/>
<rect x="534" y="349.0" width="1" height="34.7" fill="#26a69a"/>
<rect x="533" y="364.0" width="3" height="18.7" fill="#26a69a"/>
<rect x="538" y="353.0" width="1" height="14.8" fill="#26a69a"/>
<rect x="537" y="360.0" width="3" height="4.9" fill="#26a69a"/>
<rect x="542" y="350.9" width="1" height="17.8" fill="#ef5350"/>
<rect x="541" y="360.0" width="3" height="3.0" fill="#ef5350"/>
<rect x="546" y="340.1" width="1" height="23.5" fill="#26a69a"/>
<rect x="545" y="351.9" width="3" height="11.1" fill="#26a69a"/>
<rect x="549" y="348.1" width="1" height="28.6" fill="#ef5350"/>
<rect x="548" y="351.9" width="3" height="4.1" fill="#ef5350"/>
<rect x="553" y="352.1" width="1" height="17.9" fill="#ef5350"/>
<rect x="552" y="356.0" width="3" height="12.0" fill="#ef5350"/>
<rect x="557" y="366.8" width="1" height="15.9" fill="#ef5350"/>
<rect x="556" y="368.0" width="3" height="6.4" fill="#ef5350"/>
<rect x="561" y="364.0" width="1" height="12.7" fill="#26a69a"/>
<rect x="560" y="364.9" width="3" height="10.8" fill="#26a69a"/>
<rect x="564" y="359.1" width="1" height="10.9" fill="#ef5350"/>
<rect x="563" y="364.9" width="3" height="3.8" fill="#ef5350"/>
<rect x="568" y="363.0" width="1" height="7.0" fill="#26a69a"/>
<rect x="567" y="365.9" width="3" height="2.8" fill="#26a69a"/>
<rect x="572" y="363.0" width="1" height="25.6" fill="#ef5350"/>
<rect x="571" y="365.9" width="3" height="10.8" fill="#ef5350"/>
<rect x="576" y="371.2" width="1" height="17.4" fill="#ef5350"/>
<rect x="575" y="376.1" width="3" height="6.6" fill="#ef5350"/>
<rect x="579" y="377.6" width="1" height="19.3" fill="#26a69a"/>
<rect x="578" y="378.9" width="3" height="3.8" fill="#26a69a"/>
<rect x="583" y="375.0" width="1" height="12.8" fill="#ef5350"/>
<rect x="582" y="378.9" width="3" height="2.9" fill="#ef5350"/>
<rect x="587" y="378.2" width="1" height="22.7" fill="#ef5350"/>
<rect x="586" y="381.4" width="3" height="16.3" fill="#ef5350"/>
<rect x="591" y="391.0" width="1" height="11.8" fill="#ef5350"/>
<rect x="590" y="396.2" width="3" height="2.5" fill="#ef5350"/>
<rect x="595" y="393.9" width="1" height="11.1" fill="#26a69a"/>
<rect x="594" y="397.1" width="3" height="1.0" fill="#26a69a"/>
<rect x="598" y="389.0" width="1" height="9.0" fill="#26a69a"/>
<rect x="597" y="391.0" width="3" height="6.7" fill="#26a69a"/>
<rect x="602" y="385.0" width="1" height="21.9" fill="#ef5350"/>
<rect x="601" y="391.0" width="3" height="6.1" fill="#ef5350"/>
<rect x="606" y="386.3" width="1" height="13.7" fill="#26a69a"/>
<rect x="605" y="392.9" width="3" height="4.8" fill="#26a69a"/>
<rect x="610" y="387.3" width="1" height="9.8" fill="#26a69a"/>
<rect x="609" y="392.0" width="3" height="1.0" fill="#26a69a"/>
<rect x="613" y="391.0" width="1" height="6.7" fill="#ef5350"/>
<rect x="612" y="392.0" width="3" height="2.2" fill="#ef5350"/>
<rect x="617" y="391.0" width="1" height="6.7" fill="#ef5350"/>
<rect x="616" y="392.9" width="3" height="3.8" fill="#ef5350"/>
<rect x="621" y="392.8" width="1" height="5.1" fill="#26a69a"/>
<rect x="620" y="393.6" width="3" height="3.1" fill="#26a69a"/>
<rect x="625" y="390.1" width="1" height="10.8" fill="#ef5350"/>
<rect x="624" y="393.6" width="3" height="5.1" fill="#ef5350"/>
<rect x="629" y="394.9" width="1" height="7.9" fill="#ef5350"/>
<rect x="628" y="397.7" width="3" height="1.0" fill="#ef5350"/>
<rect x="632" y="398.7" width="1" height="45.2" fill="#ef5350"/>
<rect x="631" y="400.0" width="3" height="21.9" fill="#ef5350"/>
<rect x="636" y="420.0" width="1" height="24.8" fill="#ef5350"/>
<rect x="635" y="421.0" width="3" height="14.0" fill="#ef5350"/>
<rect x="640" y="428.2" width="1" height="73.7" fill="#ef5350"/>
<rect x="639" y="434.3" width="3" height="28.3" fill="#ef5350"/>
<rect x="644" y="454.2" width="1" height="9.8" fill="#26a69a"/>
<rect x="643" y="456.0" width="3" height="7.5" fill="#26a69a"/>
<rect x="647" y="445.0" width="1" height="12.0" fill="#26a69a"/>
<rect x="646" y="449.2" width="3" height="7.5" fill="#26a69a"/>
<rect x="651" y="447.0" width="1" height="7.8" fill="#ef5350"/>
<rect x="650" y="449.2" width="3" height="1.0" fill="#ef5350"/>
<rect x="655" y="448.9" width="1" height="22.9" fill="#ef5350"/>
<rect x="654" y="449.9" width="3" height="15.9" fill="#ef5350"/>
<rect x="659" y="463.9" width="1" height="21.8" fill="#ef5350"/>
<rect x="658" y="465.0" width="3" height="2.7" fill="#ef5350"/>
<rect x="662" y="457.0" width="1" height="12.8" fill="#26a69a"/>
<rect x="661" y="461.0" width="3" height="6.7" fill="#26a69a"/>
<rect x="666" y="459.0" width="1" height="21.7" fill="#ef5350"/>
<rect x="665" y="461.0" width="3" height="15.6" fill="#ef5350"/>
<rect x="670" y="475.6" width="1" height="12.1" fill="#ef5350"/>
<rect x="669" y="476.2" width="3" height="6.8" fill="#ef5350"/>
<rect x="674" y="478.2" width="1" height="5.7" fill="#26a69a"/>
<rect x="673" y="479.8" width="3" height="3.2" fill="#26a69a"/>
<rect x="678" y="473.7" width="1" height="9.9" fill="#26a69a"/>
<rect x="677" y="474.1" width="3" height="6.9" fill="#26a69a"/>
<rect x="681" y="466.4" width="1" height="12.4" fill="#26a69a"/>
<rect x="680" y="467.1" width="3" height="7.5" fill="#26a69a"/>
<rect x="685" y="448.9" width="1" height="28.0" fill="#26a69a"/>
<rect x="684" y="457.2" width="3" height="10.5" fill="#26a69a"/>
<rect x="689" y="456.0" width="1" height="13.8" fill="#ef5350"/>
<rect x="688" y="456.3" width="3" height="9.5" fill="#ef5350"/>
<rect x="693" y="462.0" width="1" height="33.7" fill="#ef5350"/>
<rect x="692" y="464.7" width="3" height="21.1" fill="#ef5350"/>
<rect x="696" y="482.0" width="1" height="12.7" fill="#ef5350"/>
<rect x="695" y="483.9" width="3" height="5.7" fill="#ef5350"/>
<rect x="700" y="482.0" width="1" height="10.8" fill="#26a69a"/>
<rect x="699" y="487.1" width="3" height="2.5" fill="#26a69a"/>
<rect x="704" y="485.8" width="1" height="8.9" fill="#ef5350"/>
<rect x="703" y="486.8" width="3" height="2.8" fill="#ef5350"/>
<rect x="708" y="474.1" width="1" height="19.6" fill="#26a69a"/>
<rect x="707" y="488.1" width="3" height="1.5" fill="#26a69a"/>
<rect x="711" y="479.8" width="1" height="12.0" fill="#26a69a"/>
<rect x="710" y="482.0" width="3" height="7.0" fill="#26a69a"/>
<rect x="715" y="475.0" width="1" height="12.7" fill="#26a69a"/>
<rect x="714" y="480.7" width="3" height="1.0" fill="#26a69a"/>
<rect x="719" y="477.8" width="1" height="8.0" fill="#26a69a"/>
<rect x="718" y="479.2" width="3" height="2.8" fill="#26a69a"/>
<rect x="723" y="476.9" width="1" height="10.8" fill="#ef5350"/>
<rect x="722" y="479.2" width="3" height="4.4" fill="#ef5350"/>
<rect x="727" y="479.2" width="1" height="5.7" fill="#26a69a"/>
<rect x="726" y="482.0" width="3" height="1.6" fill="#26a69a"/>
<rect x="730" y="480.7" width="1" height="25.2" fill="#ef5350"/>
<rect x="729" y="482.0" width="3" height="12.7" fill="#ef5350"/>
<rect x="734" y="492.8" width="1" height="17.8" fill="#ef5350"/>
<rect x="733" y="494.1" width="3" height="9.5" fill="#ef5350"/>
<rect x="738" y="486.0" width="1" height="18.0" fill="#26a69a"/>
<rect x="737" y="497.0" width="3" height="6.6" fill="#26a69a"/>
<rect x="742" y="483.0" width="1" height="15.0" fill="#26a69a"/>
<rect x="741" y="487.7" width="3" height="10.2" fill="#26a69a"/>
<rect x="745" y="481.0" width="1" height="9.9" fill="#26a69a"/>
<rect x="744" y="483.0" width="3" height="6.0" fill="#26a69a"/>
<rect x="749" y="467.1" width="1" height="16.9" fill="#26a69a"/>
<rect x="748" y="469.0" width="3" height="14.6" fill="#26a69a"/>
<rect x="753" y="460.0" width="1" height="16.0" fill="#ef5350"/>
<rect x="752" y="469.0" width="3" height="6.0" fill="#ef5350"/>
<rect x="757" y="465.1" width="1" height="16.6" fill="#26a69a"/>
<rect x="756" y="472.8" width="3" height="1.0" fill="#26a69a"/>
<rect x="761" y="462.9" width="1" height="14.0" fill="#26a69a"/>
<rect x="760" y="472.8" width="3" height="1.0" fill="#26a69a"/>
<rect x="764" y="465.1" width="1" height="9.5" fill="#26a69a"/>
<rect x="763" y="469.0" width="3" height="4.7" fill="#26a69a"/>
<rect x="768" y="463.9" width="1" height="10.7" fill="#ef5350"/>
<rect x="767" y="469.0" width="3" height="1.0" fill="#ef5350"/>
<rect x="772" y="467.1" width="1" height="20.0" fill="#ef5350"/>
<rect x="771" y="470.3" width="3" height="15.5" fill="#ef5350"/>
<rect x="776" y="482.0" width="1" height="4.8" fill="#26a69a"/>
<rect x="775" y="483.9" width="3" height="1.3" fill="#26a69a"/>
<rect x="779" y="481.0" width="1" height="5.8" fill="#26a69a"/>
<rect x="778" y="482.4" width="3" height="2.8" fill="#26a69a"/>
<rect x="783" y="479.3" width="1" height="8.5" fill="#ef5350"/>
<rect x="782" y="482.0" width="3" height="3.9" fill="#ef5350"/>
<rect x="787" y="480.8" width="1" height="7.8" fill="#26a69a"/>
<rect x="786" y="483.9" width="3" height="1.1" fill="#26a69a"/>
<rect x="791" y="483.3" width="1" height="11.5" fill="#ef5350"/>
<rect x="790" y="485.0" width="3" height="4.9" fill="#ef5350"/>
<rect x="794" y="478.2" width="1" height="11.8" fill="#26a69a"/>
<rect x="793" y="485.0" width="3" height="4.9" fill="#26a69a"/>
<rect x="798" y="475.0" width="1" height="11.0" fill="#26a69a"/>
<rect x="797" y="475.3" width="3" height="10.6" fill="#26a69a"/>
<rect x="802" y="469.1" width="1" height="8.7" fill="#26a69a"/>
<rect x="801" y="471.9" width="3" height="4.0" fill="#26a69a"/>
<rect x="806" y="468.0" width="1" height="7.0" fill="#26a69a"/>
<rect x="805" y="470.6" width="3" height="2.5" fill="#26a69a"/>
<rect x="810" y="457.9" width="1" height="14.1" fill="#26a69a"/>
<rect x="809" y="460.0" width="3" height="11.9" fill="#26a69a"/>
<rect x="813" y="458.9" width="1" height="18.0" fill="#ef5350"/>
<rect x="812" y="460.0" width="3" height="13.8" fill="#ef5350"/>
<rect x="817" y="470.0" width="1" height="7.6" fill="#ef5350"/>
<rect x="816" y="472.9" width="3" height="3.0" fill="#ef5350"/>
<rect x="821" y="473.1" width="1" height="11.9" fill="#26a69a"/>
<rect x="820" y="475.0" width="3" height="1.0" fill="#26a69a"/>
<rect x="825" y="472.9" width="1" height="8.1" fill="#ef5350"/>
<rect x="824" y="475.0" width="3" height="5.8" fill="#ef5350"/>
<rect x="828" y="469.1" width="1" height="12.9" fill="#26a69a"/>
<rect x="827" y="473.1" width="3" height="8.0" fill="#26a69a"/>
<rect x="832" y="461.0" width="1" height="13.0" fill="#26a69a"/>
<rect x="831" y="461.9" width="3" height="11.9" fill="#26a69a"/>
<rect x="836" y="461.0" width="1" height="8.1" fill="#ef5350"/>
<rect x="835" y="461.3" width="3" height="6.7" fill="#ef5350"/>
<rect x="840" y="463.0" width="1" height="26.9" fill="#ef5350"/>
<rect x="839" y="467.2" width="3" height="16.7" fill="#ef5350"/>
<rect x="843" y="482.0" width="1" height="6.6" fill="#ef5350"/>
<rect x="842" y="483.3" width="3" height="3.8" fill="#ef5350"/>
<rect x="847" y="485.0" width="1" height="9.8" fill="#ef5350"/>
<rect x="846" y="486.1" width="3" height="2.5" fill="#ef5350"/>
<rect x="851" y="482.0" width="1" height="10.8" fill="#26a69a"/>
<rect x="850" y="485.0" width="3" height="3.6" fill="#26a69a"/>
<rect x="855" y="480.8" width="1" height="7.0" fill="#ef5350"/>
<rect x="854" y="484.6" width="3" height="1.0" fill="#ef5350"/>
<rect x="859" y="482.0" width="1" height="4.0" fill="#26a69a"/>
<rect x="858" y="484.6" width="3" height="1.0" fill="#26a69a"/>
<rect x="862" y="482.0" width="1" height="4.0" fill="#26a69a"/>
<rect x="861" y="483.3" width="3" height="2.2" fill="#26a69a"/>
<rect x="866" y="469.1" width="1" height="16.8" fill="#26a69a"/>
<rect x="865" y="480.1" width="3" height="3.8" fill="#26a69a"/>
<rect x="870" y="479.9" width="1" height="14.0" fill="#ef5350"/>
<rect x="869" y="480.8" width="3" height="5.1" fill="#ef5350"/>
<rect x="874" y="482.0" width="1" height="7.7" fill="#ef5350"/>
<rect x="873" y="485.0" width="3" height="3.6" fill="#ef5350"/>
<rect x="877" y="485.9" width="1" height="6.9" fill="#26a69a"/>
<rect x="876" y="486.9" width="3" height="1.7" fill="#26a69a"/>
<rect x="881" y="476.9" width="1" height="11.1" fill="#26a69a"/>
<rect x="880" y="485.0" width="3" height="2.8" fill="#26a69a"/>
<rect x="885" y="468.0" width="1" height="18.0" fill="#26a69a"/>
<rect x="884" y="471.9" width="3" height="14.0" fill="#26a69a"/>
<rect x="889" y="461.0" width="1" height="13.8" fill="#26a69a"/>
<rect x="888" y="464.0" width="3" height="8.9" fill="#26a69a"/>
<rect x="893" y="412.1" width="1" height="54.7" fill="#26a69a"/>
<rect x="892" y="421.0" width="3" height="43.9" fill="#26a69a"/>
<rect x="896" y="407.9" width="1" height="29.0" fill="#ef5350"/>
<rect x="895" y="421.0" width="3" height="3.8" fill="#ef5350"/>
<rect x="900" y="408.9" width="1" height="29.0" fill="#ef5350"/>
<rect x="899" y="423.9" width="3" height="7.0" fill="#ef5350"/>
<rect x="904" y="419.1" width="1" height="26.7" fill="#ef5350"/>
<rect x="903" y="429.9" width="3" height="3.8" fill="#ef5350"/>
<rect x="908" y="432.8" width="1" height="22.1" fill="#ef5350"/>
<rect x="907" y="433.1" width="3" height="14.6" fill="#ef5350"/>
<rect x="911" y="430.9" width="1" height="17.1" fill="#26a69a"/>
<rect x="910" y="433.1" width="3" height="14.6" fill="#26a69a"/>
<rect x="915" y="413.0" width="1" height="28.7" fill="#26a69a"/>
<rect x="914" y="427.1" width="3" height="6.6" fill="#26a69a"/>
<rect x="919" y="419.1" width="1" height="14.6" fill="#26a69a"/>
<rect x="918" y="421.0" width="3" height="6.7" fill="#26a69a"/>
<rect x="923" y="413.0" width="1" height="23.9" fill="#ef5350"/>
<rect x="922" y="421.0" width="3" height="3.8" fill="#ef5350"/>
<rect x="926" y="406.8" width="1" height="29.2" fill="#26a69a"/>
<rect x="925" y="413.0" width="3" height="11.8" fill="#26a69a"/>
<rect x="930" y="388.8" width="1" height="40.2" fill="#26a69a"/>
<rect x="929" y="397.7" width="3" height="16.0" fill="#26a69a"/>
<rect x="934" y="397.0" width="1" height="25.9" fill="#ef5350"/>
<rect x="933" y="397.7" width="3" height="17.3" fill="#ef5350"/>
<rect x="938" y="404.0" width="1" height="13.8" fill="#26a69a"/>
<rect x="937" y="406.8" width="3" height="9.1" fill="#26a69a"/>
<rect x="942" y="391.9" width="1" height="17.1" fill="#26a69a"/>
<rect x="941" y="395.8" width="3" height="12.7" fill="#26a69a"/>
<rect x="945" y="362.1" width="1" height="39.8" fill="#26a69a"/>
<rect x="944" y="373.9" width="3" height="23.1" fill="#26a69a"/>
<rect x="949" y="372.9" width="1" height="27.1" fill="#ef5350"/>
<rect x="948" y="373.9" width="3" height="10.8" fill="#ef5350"/>
<rect x="953" y="361.0" width="1" height="24.5" fill="#26a69a"/>
<rect x="952" y="365.0" width="3" height="20.0" fill="#26a69a"/>
<rect x="957" y="337.9" width="1" height="52.1" fill="#26a69a"/>
<rect x="956" y="358.0" width="3" height="7.9" fill="#26a69a"/>
<rect x="960" y="343.0" width="1" height="28.0" fill="#26a69a"/>
<rect x="959" y="349.1" width="3" height="9.8" fill="#26a69a"/>
<rect x="964" y="318.0" width="1" height="45.1" fill="#26a69a"/>
<rect x="963" y="334.1" width="3" height="15.5" fill="#26a69a"/>
<rect x="968" y="282.8" width="1" height="71.0" fill="#26a69a"/>
<rect x="967" y="294.2" width="3" height="40.8" fill="#26a69a"/>
<rect x="972" y="243.0" width="1" height="65.0" fill="#ef5350"/>
<rect x="971" y="294.2" width="3" height="13.4" fill="#ef5350"/>
<rect x="975" y="293.0" width="1" height="58.0" fill="#ef5350"/>
<rect x="974" y="307.0" width="3" height="22.7" fill="#ef5350"/>
<rect x="979" y="280.0" width="1" height="50.9" fill="#26a69a"/>
<rect x="978" y="287.0" width="3" height="42.7" fill="#26a69a"/>
<rect x="983" y="266.9" width="1" height="65.9" fill="#ef5350"/>
<rect x="982" y="287.0" width="3" height="37.1" fill="#ef5350"/>
<rect x="987" y="310.8" width="1" height="45.2" fill="#ef5350"/>
<rect x="986" y="322.9" width="3" height="12.1" fill="#ef5350"/>
<rect x="991" y="333.8" width="1" height="34.9" fill="#ef5350"/>
<rect x="990" y="334.1" width="3" height="2.8" fill="#ef5350"/>
<rect x="994" y="316.0" width="1" height="30.8" fill="#26a69a"/>
<rect x="993" y="320.1" width="3" height="17.8" fill="#26a69a"/>
<rect x="998" y="317.8" width="1" height="29.0" fill="#ef5350"/>
<rect x="997" y="320.1" width="3" height="19.7" fill="#ef5350"/>
<rect x="1002" y="334.1" width="1" height="57.8" fill="#ef5350"/>
<rect x="1001" y="338.9" width="3" height="49.9" fill="#ef5350"/>
<rect x="1006" y="354.2" width="1" height="34.8" fill="#26a69a"/>
<rect x="1005" y="359.5" width="3" height="29.3" fill="#26a69a"/>
<rect x="1009" y="351.0" width="1" height="14.9" fill="#26a69a"/>
<rect x="1008" y="358.9" width="3" height="1.9" fill="#26a69a"/>
<rect x="1013" y="336.9" width="1" height="23.1" fill="#26a69a"/>
<rect x="1012" y="344.0" width="3" height="15.8" fill="#26a69a"/>
<rect x="1017" y="329.5" width="1" height="17.3" fill="#26a69a"/>
<rect x="1016" y="330.0" width="3" height="14.9" fill="#26a69a"/>
<rect x="1021" y="327.1" width="1" height="36.0" fill="#ef5350"/>
<rect x="1020" y="330.0" width="3" height="18.7" fill="#ef5350"/>
<rect x="1025" y="343.0" width="1" height="22.9" fill="#ef5350"/>
<rect x="1024" y="348.1" width="3" height="6.1" fill="#ef5350"/>
<rect x="1028" y="349.1" width="1" height="20.8" fill="#ef5350"/>
<rect x="1027" y="353.2" width="3" height="1.2" fill="#ef5350"/>
<rect x="1032" y="348.1" width="1" height="18.8" fill="#ef5350"/>
<rect x="1031" y="353.8" width="3" height="11.2" fill="#ef5350"/>
<rect x="1036" y="363.1" width="1" height="10.8" fill="#ef5350"/>
<rect x="1035" y="364.0" width="3" height="5.7" fill="#ef5350"/>
<rect x="1040" y="351.9" width="1" height="21.0" fill="#26a69a"/>
<rect x="1039" y="357.0" width="3" height="12.7" fill="#26a69a"/>
<rect x="1043" y="335.0" width="1" height="23.0" fill="#26a69a"/>
<rect x="1042" y="342.1" width="3" height="15.5" fill="#26a69a"/>
<rect x="1047" y="336.0" width="1" height="29.0" fill="#ef5350"/>
<rect x="1046" y="342.1" width="3" height="8.5" fill="#ef5350"/>
<rect x="1051" y="322.9" width="1" height="36.9" fill="#26a69a"/>
<rect x="1050" y="335.0" width="3" height="16.0" fill="#26a69a"/>
<rect x="1055" y="322.0" width="1" height="30.9" fill="#26a69a"/>
<rect x="1054" y="330.0" width="3" height="5.3" fill="#26a69a"/>
<rect x="1058" y="322.9" width="1" height="23.0" fill="#ef5350"/>
<rect x="1057" y="330.0" width="3" height="5.0" fill="#ef5350"/>
<rect x="1062" y="299.1" width="1" height="35.9" fill="#26a69a"/>
<rect x="1061" y="305.3" width="3" height="29.3" fill="#26a69a"/>
<rect x="1066" y="283.1" width="1" height="31.8" fill="#26a69a"/>
<rect x="1065" y="287.0" width="3" height="18.8" fill="#26a69a"/>
<rect x="1070" y="260.9" width="1" height="41.8" fill="#ef5350"/>
<rect x="1069" y="287.2" width="3" height="9.3" fill="#ef5350"/>
<rect x="1074" y="286.0" width="1" height="24.8" fill="#26a69a"/>
<rect x="1073" y="294.2" width="3" height="2.3" fill="#26a69a"/>
<rect x="1077" y="289.1" width="1" height="74.5" fill="#ef5350"/>
<rect x="1076" y="293.9" width="3" height="52.6" fill="#ef5350"/>
<rect x="1081" y="331.0" width="1" height="26.9" fill="#26a69a"/>
<rect x="1080" y="343.4" width="3" height="4.7" fill="#26a69a"/>
<rect x="1085" y="331.0" width="1" height="35.7" fill="#26a69a"/>
<rect x="1084" y="335.7" width="3" height="7.7" fill="#26a69a"/>
<rect x="1089" y="319.1" width="1" height="32.6" fill="#26a69a"/>
<rect x="1088" y="322.2" width="3" height="14.5" fill="#26a69a"/>
<rect x="1092" y="309.8" width="1" height="30.8" fill="#ef5350"/>
<rect x="1091" y="322.2" width="3" height="6.5" fill="#ef5350"/>
<rect x="1096" y="190.9" width="1" height="147.9" fill="#26a69a"/>
<rect x="1095" y="239.9" width="3" height="89.1" fill="#26a69a"/>
<rect x="1100" y="230.1" width="1" height="38.5" fill="#ef5350"/>
<rect x="1099" y="239.9" width="3" height="8.5" fill="#ef5350"/>
</g>
<line x1="11" y1="248.5" x2="1185" y2="248.5" stroke="#ef5350" stroke-width="1" stroke-dasharray="1 2" shape-rendering="crispEdges"/>
<defs><linearGradient id="gob" x1="0" y1="572" x2="0" y2="606.5" gradientUnits="userSpaceOnUse"><stop offset="0" stop-color="#4caf50" stop-opacity="0.45"/><stop offset="1" stop-color="#4caf50" stop-opacity="0"/></linearGradient><linearGradient id="gos" x1="0" y1="706.5" x2="0" y2="733" gradientUnits="userSpaceOnUse"><stop offset="0" stop-color="#ff5252" stop-opacity="0"/><stop offset="1" stop-color="#ff5252" stop-opacity="0.4"/></linearGradient><clipPath id="cob"><rect x="11" y="565" width="1174" height="41.5"/></clipPath><clipPath id="cos"><rect x="11" y="706.5" width="1174" height="36"/></clipPath></defs>
<polygon clip-path="url(#cob)" fill="url(#gob)" points="10.6,606.5 10.6,659.2 13.7,669.0 18.0,663.4 21.7,665.0 25.7,668.2 29.6,673.2 33.3,679.0 36.8,685.4 40.3,692.2 44.0,667.9 47.6,650.4 51.3,640.6 55.1,667.6 59.1,662.3 62.7,649.6 67.0,660.7 70.2,652.0 74.2,663.9 78.1,659.5 82.1,665.0 85.3,658.7 89.3,667.1 93.2,670.6 96.9,662.7 100.9,670.3 104.4,664.2 108.0,659.6 112.0,663.4 115.8,660.7 119.1,658.0 123.1,664.4 127.1,663.4 130.6,662.0 134.3,660.0 138.2,662.3 141.7,654.4 145.7,655.2 150.0,656.5 152.9,638.5 156.8,641.7 161.1,649.1 164.8,644.5 168.3,637.7 172.3,634.5 176.2,632.6 179.9,646.0 183.1,639.3 186.7,667.6 190.7,673.5 194.7,684.9 198.6,680.9 202.1,683.3 205.6,683.8 209.9,677.9 214.0,682.2 217.5,672.3 221.5,664.4 225.1,661.2 229.1,670.0 232.9,676.0 236.2,677.1 239.7,672.3 244.2,677.1 247.7,677.4 251.4,690.1 255.2,690.6 259.1,712.6 262.8,711.6 266.0,706.2 270.0,716.1 273.9,708.1 277.9,709.7 281.9,703.3 285.1,702.5 288.7,704.1 292.7,690.6 296.7,695.7 300.2,691.4 304.1,690.1 308.1,698.6 312.1,694.6 314.9,680.8 319.2,685.4 323.2,689.0 327.2,685.9 330.8,681.1 334.0,658.5 338.0,661.2 341.8,642.1 346.3,655.6 349.1,655.6 353.1,631.8 356.9,642.9 360.6,658.0 364.9,690.1 368.0,674.4 372.0,688.2 376.0,690.6 380.0,693.3 383.3,714.9 386.8,716.5 390.8,707.3 394.8,696.5 397.9,700.5 402.2,692.2 406.1,689.3 409.8,688.2 413.8,689.8 417.3,688.7 420.9,678.7 424.9,666.0 428.7,665.7 432.0,654.8 436.0,664.4 440.0,647.7 444.3,661.2 447.0,655.6 451.0,674.4 455.1,669.2 458.6,660.4 463.0,647.2 466.1,646.9 470.0,611.9 474.0,626.2 477.7,624.6 481.3,644.5 484.8,640.5 489.1,645.0 493.3,645.3 497.2,646.6 500.4,649.0 503.9,653.3 507.9,625.1 512.2,642.9 515.0,643.7 519.0,649.3 523.0,650.9 527.0,655.6 529.8,657.2 533.8,643.2 537.8,640.5 542.1,642.1 545.7,634.2 549.2,639.0 553.2,650.6 556.8,657.6 560.8,648.2 564.3,651.7 568.3,649.6 572.0,660.1 575.9,666.3 579.4,663.3 583.4,665.5 587.0,680.8 591.0,681.9 594.8,680.7 597.9,671.7 601.9,677.6 605.9,672.3 609.9,671.2 613.1,672.8 617.0,676.5 621.0,673.3 625.3,678.0 629.0,680.4 632.1,705.4 636.1,715.7 640.1,732.1 644.1,720.5 647.2,709.7 650.9,710.2 654.9,719.4 658.8,720.5 662.0,710.2 666.0,719.2 670.0,723.4 673.9,718.9 677.4,709.4 681.4,692.7 685.1,679.2 689.0,687.9 693.0,703.3 695.7,705.7 699.7,703.3 703.7,705.1 707.6,703.5 710.8,692.7 714.8,690.8 718.8,687.4 722.8,691.1 726.7,688.7 730.4,703.0 733.9,710.5 737.9,698.2 741.8,683.1 745.5,670.4 749.0,652.1 753.0,658.5 756.9,657.4 760.9,656.9 764.1,651.3 768.1,651.3 772.0,674.9 775.2,673.6 778.9,670.1 783.2,674.4 787.4,674.9 791.4,680.8 794.9,670.1 798.2,651.9 802.2,647.6 806.1,643.9 810.0,626.7 813.6,652.6 817.6,656.3 821.2,656.1 825.1,665.4 828.7,648.7 832.2,634.7 836.2,644.7 839.9,669.3 843.0,673.3 847.0,676.2 850.7,670.1 854.6,670.4 858.4,669.7 862.1,666.5 866.1,661.7 870.1,669.3 874.0,675.4 877.7,670.4 881.2,665.4 884.8,639.1 889.1,626.4 893.1,587.5 896.3,593.8 900.3,605.0 903.9,611.3 907.9,634.4 911.1,621.6 915.4,616.1 919.3,611.3 923.3,615.3 926.5,605.7 930.0,596.5 934.0,621.6 937.6,616.6 941.6,609.7 944.8,595.4 949.1,609.2 952.7,599.9 956.7,596.2 960.4,591.4 964.3,585.1 967.8,572.7 971.8,589.8 975.0,611.3 979.0,595.2 982.6,623.8 986.9,631.7 990.9,633.3 993.8,625.3 998.1,638.4 1002.0,666.5 1005.7,652.4 1009.2,651.1 1013.2,643.9 1017.1,637.1 1021.1,647.9 1024.8,651.1 1027.9,651.9 1032.2,658.2 1036.2,661.4 1039.7,653.5 1043.0,643.1 1047.0,649.5 1051.0,640.0 1055.0,637.1 1058.2,640.7 1062.1,624.1 1066.1,615.3 1070.1,622.8 1074.1,621.7 1076.8,660.6 1080.7,658.2 1084.7,653.5 1088.7,645.0 1092.3,648.7 1096.1,609.3 1100.6,615.6 1100.6,606.5"/>
<polygon clip-path="url(#cos)" fill="url(#gos)" points="10.6,706.5 10.6,659.2 13.7,669.0 18.0,663.4 21.7,665.0 25.7,668.2 29.6,673.2 33.3,679.0 36.8,685.4 40.3,692.2 44.0,667.9 47.6,650.4 51.3,640.6 55.1,667.6 59.1,662.3 62.7,649.6 67.0,660.7 70.2,652.0 74.2,663.9 78.1,659.5 82.1,665.0 85.3,658.7 89.3,667.1 93.2,670.6 96.9,662.7 100.9,670.3 104.4,664.2 108.0,659.6 112.0,663.4 115.8,660.7 119.1,658.0 123.1,664.4 127.1,663.4 130.6,662.0 134.3,660.0 138.2,662.3 141.7,654.4 145.7,655.2 150.0,656.5 152.9,638.5 156.8,641.7 161.1,649.1 164.8,644.5 168.3,637.7 172.3,634.5 176.2,632.6 179.9,646.0 183.1,639.3 186.7,667.6 190.7,673.5 194.7,684.9 198.6,680.9 202.1,683.3 205.6,683.8 209.9,677.9 214.0,682.2 217.5,672.3 221.5,664.4 225.1,661.2 229.1,670.0 232.9,676.0 236.2,677.1 239.7,672.3 244.2,677.1 247.7,677.4 251.4,690.1 255.2,690.6 259.1,712.6 262.8,711.6 266.0,706.2 270.0,716.1 273.9,708.1 277.9,709.7 281.9,703.3 285.1,702.5 288.7,704.1 292.7,690.6 296.7,695.7 300.2,691.4 304.1,690.1 308.1,698.6 312.1,694.6 314.9,680.8 319.2,685.4 323.2,689.0 327.2,685.9 330.8,681.1 334.0,658.5 338.0,661.2 341.8,642.1 346.3,655.6 349.1,655.6 353.1,631.8 356.9,642.9 360.6,658.0 364.9,690.1 368.0,674.4 372.0,688.2 376.0,690.6 380.0,693.3 383.3,714.9 386.8,716.5 390.8,707.3 394.8,696.5 397.9,700.5 402.2,692.2 406.1,689.3 409.8,688.2 413.8,689.8 417.3,688.7 420.9,678.7 424.9,666.0 428.7,665.7 432.0,654.8 436.0,664.4 440.0,647.7 444.3,661.2 447.0,655.6 451.0,674.4 455.1,669.2 458.6,660.4 463.0,647.2 466.1,646.9 470.0,611.9 474.0,626.2 477.7,624.6 481.3,644.5 484.8,640.5 489.1,645.0 493.3,645.3 497.2,646.6 500.4,649.0 503.9,653.3 507.9,625.1 512.2,642.9 515.0,643.7 519.0,649.3 523.0,650.9 527.0,655.6 529.8,657.2 533.8,643.2 537.8,640.5 542.1,642.1 545.7,634.2 549.2,639.0 553.2,650.6 556.8,657.6 560.8,648.2 564.3,651.7 568.3,649.6 572.0,660.1 575.9,666.3 579.4,663.3 583.4,665.5 587.0,680.8 591.0,681.9 594.8,680.7 597.9,671.7 601.9,677.6 605.9,672.3 609.9,671.2 613.1,672.8 617.0,676.5 621.0,673.3 625.3,678.0 629.0,680.4 632.1,705.4 636.1,715.7 640.1,732.1 644.1,720.5 647.2,709.7 650.9,710.2 654.9,719.4 658.8,720.5 662.0,710.2 666.0,719.2 670.0,723.4 673.9,718.9 677.4,709.4 681.4,692.7 685.1,679.2 689.0,687.9 693.0,703.3 695.7,705.7 699.7,703.3 703.7,705.1 707.6,703.5 710.8,692.7 714.8,690.8 718.8,687.4 722.8,691.1 726.7,688.7 730.4,703.0 733.9,710.5 737.9,698.2 741.8,683.1 745.5,670.4 749.0,652.1 753.0,658.5 756.9,657.4 760.9,656.9 764.1,651.3 768.1,651.3 772.0,674.9 775.2,673.6 778.9,670.1 783.2,674.4 787.4,674.9 791.4,680.8 794.9,670.1 798.2,651.9 802.2,647.6 806.1,643.9 810.0,626.7 813.6,652.6 817.6,656.3 821.2,656.1 825.1,665.4 828.7,648.7 832.2,634.7 836.2,644.7 839.9,669.3 843.0,673.3 847.0,676.2 850.7,670.1 854.6,670.4 858.4,669.7 862.1,666.5 866.1,661.7 870.1,669.3 874.0,675.4 877.7,670.4 881.2,665.4 884.8,639.1 889.1,626.4 893.1,587.5 896.3,593.8 900.3,605.0 903.9,611.3 907.9,634.4 911.1,621.6 915.4,616.1 919.3,611.3 923.3,615.3 926.5,605.7 930.0,596.5 934.0,621.6 937.6,616.6 941.6,609.7 944.8,595.4 949.1,609.2 952.7,599.9 956.7,596.2 960.4,591.4 964.3,585.1 967.8,572.7 971.8,589.8 975.0,611.3 979.0,595.2 982.6,623.8 986.9,631.7 990.9,633.3 993.8,625.3 998.1,638.4 1002.0,666.5 1005.7,652.4 1009.2,651.1 1013.2,643.9 1017.1,637.1 1021.1,647.9 1024.8,651.1 1027.9,651.9 1032.2,658.2 1036.2,661.4 1039.7,653.5 1043.0,643.1 1047.0,649.5 1051.0,640.0 1055.0,637.1 1058.2,640.7 1062.1,624.1 1066.1,615.3 1070.1,622.8 1074.1,621.7 1076.8,660.6 1080.7,658.2 1084.7,653.5 1088.7,645.0 1092.3,648.7 1096.1,609.3 1100.6,615.6 1100.6,706.5"/>
<g clip-path="url(#cr)" fill="none" stroke-linejoin="round" stroke-linecap="round"><polyline points="10.6,659.2 13.7,669.0 18.0,663.4 21.7,665.0 25.7,668.2 29.6,673.2 33.3,679.0 36.8,685.4 40.3,692.2 44.0,667.9 47.6,650.4 51.3,640.6 55.1,667.6 59.1,662.3 62.7,649.6 67.0,660.7 70.2,652.0 74.2,663.9 78.1,659.5 82.1,665.0 85.3,658.7 89.3,667.1 93.2,670.6 96.9,662.7 100.9,670.3 104.4,664.2 108.0,659.6 112.0,663.4 115.8,660.7 119.1,658.0 123.1,664.4 127.1,663.4 130.6,662.0 134.3,660.0 138.2,662.3 141.7,654.4 145.7,655.2 150.0,656.5 152.9,638.5 156.8,641.7 161.1,649.1 164.8,644.5 168.3,637.7 172.3,634.5 176.2,632.6 179.9,646.0 183.1,639.3 186.7,667.6 190.7,673.5 194.7,684.9 198.6,680.9 202.1,683.3 205.6,683.8 209.9,677.9 214.0,682.2 217.5,672.3 221.5,664.4 225.1,661.2 229.1,670.0 232.9,676.0 236.2,677.1 239.7,672.3 244.2,677.1 247.7,677.4 251.4,690.1 255.2,690.6 259.1,712.6 262.8,711.6 266.0,706.2 270.0,716.1 273.9,708.1 277.9,709.7 281.9,703.3 285.1,702.5 288.7,704.1 292.7,690.6 296.7,695.7 300.2,691.4 304.1,690.1 308.1,698.6 312.1,694.6 314.9,680.8 319.2,685.4 323.2,689.0 327.2,685.9 330.8,681.1 334.0,658.5 338.0,661.2 341.8,642.1 346.3,655.6 349.1,655.6 353.1,631.8 356.9,642.9 360.6,658.0 364.9,690.1 368.0,674.4 372.0,688.2 376.0,690.6 380.0,693.3 383.3,714.9 386.8,716.5 390.8,707.3 394.8,696.5 397.9,700.5 402.2,692.2 406.1,689.3 409.8,688.2 413.8,689.8 417.3,688.7 420.9,678.7 424.9,666.0 428.7,665.7 432.0,654.8 436.0,664.4 440.0,647.7 444.3,661.2 447.0,655.6 451.0,674.4 455.1,669.2 458.6,660.4 463.0,647.2 466.1,646.9 470.0,611.9 474.0,626.2 477.7,624.6 481.3,644.5 484.8,640.5 489.1,645.0 493.3,645.3 497.2,646.6 500.4,649.0 503.9,653.3 507.9,625.1 512.2,642.9 515.0,643.7 519.0,649.3 523.0,650.9 527.0,655.6 529.8,657.2 533.8,643.2 537.8,640.5 542.1,642.1 545.7,634.2 549.2,639.0 553.2,650.6 556.8,657.6 560.8,648.2 564.3,651.7 568.3,649.6 572.0,660.1 575.9,666.3 579.4,663.3 583.4,665.5 587.0,680.8 591.0,681.9 594.8,680.7 597.9,671.7 601.9,677.6 605.9,672.3 609.9,671.2 613.1,672.8 617.0,676.5 621.0,673.3 625.3,678.0 629.0,680.4 632.1,705.4 636.1,715.7 640.1,732.1 644.1,720.5 647.2,709.7 650.9,710.2 654.9,719.4 658.8,720.5 662.0,710.2 666.0,719.2 670.0,723.4 673.9,718.9 677.4,709.4 681.4,692.7 685.1,679.2 689.0,687.9 693.0,703.3 695.7,705.7 699.7,703.3 703.7,705.1 707.6,703.5 710.8,692.7 714.8,690.8 718.8,687.4 722.8,691.1 726.7,688.7 730.4,703.0 733.9,710.5 737.9,698.2 741.8,683.1 745.5,670.4 749.0,652.1 753.0,658.5 756.9,657.4 760.9,656.9 764.1,651.3 768.1,651.3 772.0,674.9 775.2,673.6 778.9,670.1 783.2,674.4 787.4,674.9 791.4,680.8 794.9,670.1 798.2,651.9 802.2,647.6 806.1,643.9 810.0,626.7 813.6,652.6 817.6,656.3 821.2,656.1 825.1,665.4 828.7,648.7 832.2,634.7 836.2,644.7 839.9,669.3 843.0,673.3 847.0,676.2 850.7,670.1 854.6,670.4 858.4,669.7 862.1,666.5 866.1,661.7 870.1,669.3 874.0,675.4 877.7,670.4 881.2,665.4 884.8,639.1 889.1,626.4 893.1,587.5 896.3,593.8 900.3,605.0 903.9,611.3 907.9,634.4 911.1,621.6 915.4,616.1 919.3,611.3 923.3,615.3 926.5,605.7 930.0,596.5 934.0,621.6 937.6,616.6 941.6,609.7 944.8,595.4 949.1,609.2 952.7,599.9 956.7,596.2 960.4,591.4 964.3,585.1 967.8,572.7 971.8,589.8 975.0,611.3 979.0,595.2 982.6,623.8 986.9,631.7 990.9,633.3 993.8,625.3 998.1,638.4 1002.0,666.5 1005.7,652.4 1009.2,651.1 1013.2,643.9 1017.1,637.1 1021.1,647.9 1024.8,651.1 1027.9,651.9 1032.2,658.2 1036.2,661.4 1039.7,653.5 1043.0,643.1 1047.0,649.5 1051.0,640.0 1055.0,637.1 1058.2,640.7 1062.1,624.1 1066.1,615.3 1070.1,622.8 1074.1,621.7 1076.8,660.6 1080.7,658.2 1084.7,653.5 1088.7,645.0 1092.3,648.7 1096.1,609.3 1100.6,615.6" stroke="#9d50c4" stroke-width="2.8"/></g>
<circle cx="1100.5" cy="550.4" r="11.5" fill="#ffffff"/>
<path d="M1109.9 547.0 A10 10 0 1 1 1103.6 540.9" fill="none" stroke="#9c27b0" stroke-width="1.5" stroke-linecap="round"/>
<path d="M1103.2 545.3 L1096.2 550.9 H1099.9 L1097.2 556.1 L1104.6 550.1 H1100.9 Z" fill="#9c27b0"/>
<circle cx="1107.4" cy="543.6" r="2.6" fill="#f23645"/>
<line x1="1184.5" y1="28" x2="1184.5" y2="768" stroke="#e0e3eb" stroke-width="1" shape-rendering="crispEdges"/>
<line x1="11" y1="563.5" x2="1246" y2="563.5" stroke="#e0e3eb" stroke-width="1.6"/>
<line x1="11" y1="742.5" x2="1246" y2="742.5" stroke="#e0e3eb" stroke-width="1"/>
</svg>
<div class="t" style="left:9.74px;top:9.81px;font-size:11.8px;color:#131722;transform-origin:0 0;transform:scaleX(0.9947);will-change:transform;-webkit-text-stroke:0.3px currentColor;">ranadagger</div>
<div class="t" style="left:74.30px;top:9.81px;font-size:11.8px;color:#131722;transform-origin:0 0;transform:scaleX(0.9901);will-change:transform;-webkit-text-stroke:0.3px currentColor;">published</div>
<div class="t" style="left:128.93px;top:9.81px;font-size:11.8px;color:#131722;transform-origin:0 0;transform:scaleX(0.9901);will-change:transform;-webkit-text-stroke:0.3px currentColor;">on</div>
<div class="t" style="left:146.26px;top:9.81px;font-size:11.8px;color:#131722;transform-origin:0 0;transform:scaleX(1.0015);will-change:transform;-webkit-text-stroke:0.3px currentColor;">TradingView.com,</div>
<div class="t" style="left:243.97px;top:9.81px;font-size:11.8px;color:#131722;transform-origin:0 0;transform:scaleX(0.9815);will-change:transform;-webkit-text-stroke:0.3px currentColor;">Dec</div>
<div class="t" style="left:268.92px;top:9.81px;font-size:11.8px;color:#131722;transform-origin:0 0;transform:scaleX(0.8855);will-change:transform;-webkit-text-stroke:0.3px currentColor;">17,</div>
<div class="t" style="left:288.25px;top:9.81px;font-size:11.8px;color:#131722;transform-origin:0 0;transform:scaleX(0.9368);will-change:transform;-webkit-text-stroke:0.3px currentColor;">2023</div>
<div class="t" style="left:317.15px;top:9.81px;font-size:11.8px;color:#131722;transform-origin:0 0;transform:scaleX(0.9614);will-change:transform;-webkit-text-stroke:0.3px currentColor;">13:41</div>
<div class="t" style="left:350.42px;top:9.81px;font-size:11.8px;color:#131722;transform-origin:0 0;transform:scaleX(0.8845);will-change:transform;-webkit-text-stroke:0.3px currentColor;">UTC</div>
<div class="t" style="left:17.93px;top:36.51px;font-size:11.8px;color:#131722;transform-origin:0 0;transform:scaleX(0.8125);will-change:transform;-webkit-text-stroke:0.3px currentColor;">FIL</div>
<div class="t" style="left:39.70px;top:36.51px;font-size:11.8px;color:#131722;transform-origin:0 0;transform:scaleX(1.1501);will-change:transform;-webkit-text-stroke:0.3px currentColor;">/</div>
<div class="t" style="left:48.07px;top:36.51px;font-size:11.8px;color:#131722;transform-origin:0 0;transform:scaleX(0.9939);will-change:transform;-webkit-text-stroke:0.3px currentColor;">TetherUS,</div>
<div class="t" style="left:103.86px;top:36.51px;font-size:11.8px;color:#131722;transform-origin:0 0;transform:scaleX(0.8323);will-change:transform;-webkit-text-stroke:0.3px currentColor;">1D,</div>
<div class="t" style="left:124.77px;top:36.51px;font-size:11.8px;color:#131722;transform-origin:0 0;transform:scaleX(0.8778);will-change:transform;-webkit-text-stroke:0.3px currentColor;">BINANCE</div>
<div class="t" style="left:178.83px;top:36.51px;font-size:11.8px;color:#131722;transform-origin:0 0;transform:scaleX(0.8784);will-change:transform;-webkit-text-stroke:0.3px currentColor;">O</div>
<div class="t" style="left:187.44px;top:36.51px;font-size:11.8px;color:#f23645;transform-origin:0 0;transform:scaleX(0.9700);will-change:transform;-webkit-text-stroke:0.3px currentColor;">5.696</div>
<div class="t" style="left:223.41px;top:36.51px;font-size:11.8px;color:#131722;transform-origin:0 0;transform:scaleX(0.9450);will-change:transform;-webkit-text-stroke:0.3px currentColor;">H</div>
<div class="t" style="left:231.53px;top:36.51px;font-size:11.8px;color:#f23645;transform-origin:0 0;transform:scaleX(0.9861);will-change:transform;-webkit-text-stroke:0.3px currentColor;">5.792</div>
<div class="t" style="left:268.54px;top:36.51px;font-size:11.8px;color:#131722;transform-origin:0 0;transform:scaleX(0.7998);will-change:transform;-webkit-text-stroke:0.3px currentColor;">L</div>
<div class="t" style="left:274.33px;top:36.51px;font-size:11.8px;color:#f23645;transform-origin:0 0;transform:scaleX(0.9890);will-change:transform;-webkit-text-stroke:0.3px currentColor;">5.400</div>
<div class="t" style="left:311.27px;top:36.51px;font-size:11.8px;color:#131722;transform-origin:0 0;transform:scaleX(0.7340);will-change:transform;-webkit-text-stroke:0.3px currentColor;">C</div>
<div class="t" style="left:318.23px;top:36.51px;font-size:11.8px;color:#f23645;transform-origin:0 0;transform:scaleX(0.9954);will-change:transform;-webkit-text-stroke:0.3px currentColor;">5.614</div>
<div class="t" style="left:355.08px;top:36.51px;font-size:11.8px;color:#f23645;transform-origin:0 0;transform:scaleX(0.9705);will-change:transform;-webkit-text-stroke:0.3px currentColor;">−0.082</div>
<div class="t" style="left:395.55px;top:36.51px;font-size:11.8px;color:#f23645;transform-origin:0 0;transform:scaleX(0.9243);will-change:transform;-webkit-text-stroke:0.3px currentColor;">(−1.44%)</div>
<div class="t" style="left:17.89px;top:53.71px;font-size:11.8px;color:#131722;transform-origin:0 0;transform:scaleX(0.8536);will-change:transform;-webkit-text-stroke:0.3px currentColor;">EMA</div>
<div class="t" style="left:45.28px;top:53.71px;font-size:11.8px;color:#131722;transform-origin:0 0;transform:scaleX(1.0169);will-change:transform;-webkit-text-stroke:0.3px currentColor;">(20,</div>
<div class="t" style="left:68.82px;top:53.71px;font-size:11.8px;color:#131722;transform-origin:0 0;transform:scaleX(1.0197);will-change:transform;-webkit-text-stroke:0.3px currentColor;">close,</div>
<div class="t" style="left:104.78px;top:53.71px;font-size:11.8px;color:#131722;transform-origin:0 0;transform:scaleX(0.7758);will-change:transform;-webkit-text-stroke:0.3px currentColor;">0,</div>
<div class="t" style="left:118.86px;top:53.71px;font-size:11.8px;color:#131722;transform-origin:0 0;transform:scaleX(0.8365);will-change:transform;-webkit-text-stroke:0.3px currentColor;">SMA,</div>
<div class="t" style="left:148.96px;top:53.71px;font-size:11.8px;color:#131722;transform-origin:0 0;transform:scaleX(0.9225);will-change:transform;-webkit-text-stroke:0.3px currentColor;">5)</div>
<div class="t" style="left:165.96px;top:53.71px;font-size:11.8px;color:#2962ff;transform-origin:0 0;transform:scaleX(1.0023);will-change:transform;-webkit-text-stroke:0.3px currentColor;">4.922</div>
<div class="t" style="left:18.27px;top:70.41px;font-size:11.8px;color:#131722;transform-origin:0 0;transform:scaleX(0.8155);will-change:transform;-webkit-text-stroke:0.3px currentColor;">SMA</div>
<div class="t" style="left:44.67px;top:70.41px;font-size:11.8px;color:#131722;transform-origin:0 0;transform:scaleX(1.0277);will-change:transform;-webkit-text-stroke:0.3px currentColor;">(50,</div>
<div class="t" style="left:68.22px;top:70.41px;font-size:11.8px;color:#131722;transform-origin:0 0;transform:scaleX(1.0197);will-change:transform;-webkit-text-stroke:0.3px currentColor;">close,</div>
<div class="t" style="left:103.86px;top:70.41px;font-size:11.8px;color:#131722;transform-origin:0 0;transform:scaleX(0.8116);will-change:transform;-webkit-text-stroke:0.3px currentColor;">0,</div>
<div class="t" style="left:118.05px;top:70.41px;font-size:11.8px;color:#131722;transform-origin:0 0;transform:scaleX(0.8475);will-change:transform;-webkit-text-stroke:0.3px currentColor;">SMA,</div>
<div class="t" style="left:148.36px;top:70.41px;font-size:11.8px;color:#131722;transform-origin:0 0;transform:scaleX(0.9225);will-change:transform;-webkit-text-stroke:0.3px currentColor;">5)</div>
<div class="t" style="left:165.37px;top:70.41px;font-size:11.8px;color:#f23645;transform-origin:0 0;transform:scaleX(0.9954);will-change:transform;-webkit-text-stroke:0.3px currentColor;">4.619</div>
<div class="t" style="left:18.13px;top:573.61px;font-size:11.8px;color:#131722;transform-origin:0 0;transform:scaleX(0.8192);will-change:transform;-webkit-text-stroke:0.3px currentColor;">RSI</div>
<div class="t" style="left:38.73px;top:573.61px;font-size:11.8px;color:#131722;transform-origin:0 0;transform:scaleX(1.0815);will-change:transform;-webkit-text-stroke:0.3px currentColor;">(14,</div>
<div class="t" style="left:63.54px;top:573.61px;font-size:11.8px;color:#131722;transform-origin:0 0;transform:scaleX(0.9685);will-change:transform;-webkit-text-stroke:0.3px currentColor;">close,</div>
<div class="t" style="left:98.08px;top:573.61px;font-size:11.8px;color:#131722;transform-origin:0 0;transform:scaleX(0.7961);will-change:transform;-webkit-text-stroke:0.3px currentColor;">SMA,</div>
<div class="t" style="left:127.82px;top:573.61px;font-size:11.8px;color:#131722;transform-origin:0 0;transform:scaleX(0.8786);will-change:transform;-webkit-text-stroke:0.3px currentColor;">14,</div>
<div class="t" style="left:148.71px;top:573.61px;font-size:11.8px;color:#131722;transform-origin:0 0;transform:scaleX(0.9996);will-change:transform;-webkit-text-stroke:0.3px currentColor;">2)</div>
<div class="t" style="left:165.79px;top:573.61px;font-size:11.8px;color:#a64ed1;transform-origin:0 0;transform:scaleX(1.0373);will-change:transform;-webkit-text-stroke:0.3px currentColor;">66.25</div>
<div class="t" style="left:203.70px;top:574.88px;font-size:10.3px;color:#131722;transform-origin:0 0;transform:scaleX(0.8205);will-change:transform;-webkit-text-stroke:0.3px currentColor;">Ø</div>
<div class="t" style="left:218.90px;top:574.88px;font-size:10.3px;color:#131722;transform-origin:0 0;transform:scaleX(0.8205);will-change:transform;-webkit-text-stroke:0.3px currentColor;">Ø</div>
<div class="t" style="left:234.30px;top:574.88px;font-size:10.3px;color:#131722;transform-origin:0 0;transform:scaleX(0.8205);will-change:transform;-webkit-text-stroke:0.3px currentColor;">Ø</div>
<div class="t" style="left:249.70px;top:574.88px;font-size:10.3px;color:#131722;transform-origin:0 0;transform:scaleX(0.8205);will-change:transform;-webkit-text-stroke:0.3px currentColor;">Ø</div>
<div class="t" style="left:1191.40px;top:56.61px;font-size:11.8px;color:#131722;transform-origin:0 0;transform:scaleX(1.0177);will-change:transform;-webkit-text-stroke:0.3px currentColor;">7.500</div>
<div class="t" style="left:1191.40px;top:106.71px;font-size:11.8px;color:#131722;transform-origin:0 0;transform:scaleX(1.0177);will-change:transform;-webkit-text-stroke:0.3px currentColor;">7.000</div>
<div class="t" style="left:1191.40px;top:156.71px;font-size:11.8px;color:#131722;transform-origin:0 0;transform:scaleX(1.0177);will-change:transform;-webkit-text-stroke:0.3px currentColor;">6.500</div>
<div class="t" style="left:1191.40px;top:205.71px;font-size:11.8px;color:#131722;transform-origin:0 0;transform:scaleX(1.0177);will-change:transform;-webkit-text-stroke:0.3px currentColor;">6.000</div>
<div class="t" style="left:1191.52px;top:303.71px;font-size:11.8px;color:#131722;transform-origin:0 0;transform:scaleX(1.0135);will-change:transform;-webkit-text-stroke:0.3px currentColor;">5.000</div>
<div class="t" style="left:1191.76px;top:353.71px;font-size:11.8px;color:#131722;transform-origin:0 0;transform:scaleX(1.0052);will-change:transform;-webkit-text-stroke:0.3px currentColor;">4.500</div>
<div class="t" style="left:1191.76px;top:402.71px;font-size:11.8px;color:#131722;transform-origin:0 0;transform:scaleX(1.0052);will-change:transform;-webkit-text-stroke:0.3px currentColor;">4.000</div>
<div class="t" style="left:1191.58px;top:451.71px;font-size:11.8px;color:#131722;transform-origin:0 0;transform:scaleX(1.0114);will-change:transform;-webkit-text-stroke:0.3px currentColor;">3.500</div>
<div class="t" style="left:1191.58px;top:501.71px;font-size:11.8px;color:#131722;transform-origin:0 0;transform:scaleX(1.0114);will-change:transform;-webkit-text-stroke:0.3px currentColor;">3.000</div>
<div class="t" style="left:1191.40px;top:550.71px;font-size:11.8px;color:#131722;transform-origin:0 0;transform:scaleX(1.0177);will-change:transform;-webkit-text-stroke:0.3px currentColor;">2.500</div>
<div class="t" style="left:1191.52px;top:575.71px;font-size:11.8px;color:#131722;transform-origin:0 0;transform:scaleX(1.0135);will-change:transform;-webkit-text-stroke:0.3px currentColor;">80.00</div>
<div class="t" style="left:1191.40px;top:626.71px;font-size:11.8px;color:#131722;transform-origin:0 0;transform:scaleX(1.0177);will-change:transform;-webkit-text-stroke:0.3px currentColor;">60.00</div>
<div class="t" style="left:1191.76px;top:676.71px;font-size:11.8px;color:#131722;transform-origin:0 0;transform:scaleX(1.0052);will-change:transform;-webkit-text-stroke:0.3px currentColor;">40.00</div>
<div class="t" style="left:1191.40px;top:727.71px;font-size:11.8px;color:#131722;transform-origin:0 0;transform:scaleX(1.0177);will-change:transform;-webkit-text-stroke:0.3px currentColor;">20.00</div>
<div style="position:absolute;left:1185.5px;top:28px;width:60.5px;height:32.7px;background:#fff;"></div>
<div style="position:absolute;left:1187.5px;top:30.5px;width:57px;height:27px;border:2px solid #ebedf4;border-radius:5.5px;background:#fff;box-sizing:border-box;"></div>
<div class="t" style="left:1196.72px;top:39.21px;font-size:11.8px;color:#131722;transform-origin:0 0;transform:scaleX(0.8814);will-change:transform;-webkit-text-stroke:0.3px currentColor;">USDT</div>
<div class="t" style="left:111.30px;top:750.71px;font-size:11.8px;color:#131722;transform-origin:0 0;transform:scaleX(0.9380);will-change:transform;-webkit-text-stroke:0.3px currentColor;">Apr</div>
<div class="t" style="left:222.01px;top:750.71px;font-size:11.8px;color:#131722;transform-origin:0 0;transform:scaleX(0.9411);will-change:transform;-webkit-text-stroke:0.3px currentColor;">May</div>
<div class="t" style="left:340.93px;top:750.71px;font-size:11.8px;color:#131722;transform-origin:0 0;transform:scaleX(0.9717);will-change:transform;-webkit-text-stroke:0.3px currentColor;">Jun</div>
<div class="t" style="left:455.42px;top:750.71px;font-size:11.8px;color:#131722;transform-origin:0 0;transform:scaleX(1.0381);will-change:transform;-webkit-text-stroke:0.3px currentColor;">Jul</div>
<div class="t" style="left:570.60px;top:750.71px;font-size:11.8px;color:#131722;transform-origin:0 0;transform:scaleX(0.9164);will-change:transform;-webkit-text-stroke:0.3px currentColor;">Aug</div>
<div class="t" style="left:687.01px;top:750.71px;font-size:11.8px;color:#131722;transform-origin:0 0;transform:scaleX(0.9200);will-change:transform;-webkit-text-stroke:0.3px currentColor;">Sep</div>
<div class="t" style="left:800.68px;top:750.71px;font-size:11.8px;color:#131722;transform-origin:0 0;transform:scaleX(0.9878);will-change:transform;-webkit-text-stroke:0.3px currentColor;">Oct</div>
<div class="t" style="left:916.52px;top:750.71px;font-size:11.8px;color:#131722;transform-origin:0 0;transform:scaleX(0.9372);will-change:transform;-webkit-text-stroke:0.3px currentColor;">Nov</div>
<div class="t" style="left:1030.12px;top:750.71px;font-size:11.8px;color:#131722;transform-origin:0 0;transform:scaleX(0.9309);will-change:transform;-webkit-text-stroke:0.3px currentColor;">Dec</div>
<div class="t" style="left:1143.44px;top:750.71px;font-size:11.8px;color:#131722;transform-origin:0 0;transform:scaleX(1.0193);will-change:transform;font-weight:bold;">2024</div>
<div style="position:absolute;left:1184.0px;top:223.0px;width:43.0px;height:17.0px;background:#0000ff;border-radius:0 2px 2px 0;"></div>
<div class="t" style="left:1192.42px;top:226.31px;font-size:11.8px;color:#ffffff;transform-origin:0 0;transform:scaleX(1.0135);will-change:transform;-webkit-text-stroke:0.3px currentColor;">5.670</div>
<div style="position:absolute;left:1130.0px;top:240.0px;width:53.0px;height:17.0px;background:#ef5350;border-radius:2px 0 0 2px;"></div>
<div class="t" style="left:1134.69px;top:243.21px;font-size:11.8px;color:#ffffff;transform-origin:0 0;transform:scaleX(0.8548);will-change:transform;-webkit-text-stroke:0.3px currentColor;">FILUSDT</div>
<div style="position:absolute;left:1184.0px;top:240.0px;width:60.0px;height:45.0px;background:#ef5350;border-radius:0 2px 2px 0;"></div>
<div class="t" style="left:1192.42px;top:243.21px;font-size:11.8px;color:#ffffff;transform-origin:0 0;transform:scaleX(1.0093);will-change:transform;-webkit-text-stroke:0.3px currentColor;">5.614</div>
<div class="t" style="left:1192.41px;top:257.91px;font-size:11.8px;color:#ffffff;transform-origin:0 0;transform:scaleX(0.9203);will-change:transform;-webkit-text-stroke:0.3px currentColor;">−18.70%</div>
<div class="t" style="left:1192.30px;top:271.11px;font-size:11.8px;color:#fbd3d2;transform-origin:0 0;transform:scaleX(1.0160);will-change:transform;-webkit-text-stroke:0.3px currentColor;">10:18:27</div>
<div style="position:absolute;left:1151.0px;top:308.0px;width:32.0px;height:17.0px;background:#2962ff;border-radius:2px 0 0 2px;"></div>
<div class="t" style="left:1156.41px;top:311.51px;font-size:11.8px;color:#ffffff;transform-origin:0 0;transform:scaleX(0.8332);will-change:transform;-webkit-text-stroke:0.3px currentColor;">EMA</div>
<div style="position:absolute;left:1184.0px;top:308.0px;width:43.0px;height:17.0px;background:#2962ff;border-radius:0 2px 2px 0;"></div>
<div class="t" style="left:1192.66px;top:311.51px;font-size:11.8px;color:#ffffff;transform-origin:0 0;transform:scaleX(1.0093);will-change:transform;-webkit-text-stroke:0.3px currentColor;">4.922</div>
<div style="position:absolute;left:1132.0px;top:338.0px;width:51.0px;height:17.0px;background:#f23645;border-radius:2px 0 0 2px;"></div>
<div class="t" style="left:1137.14px;top:341.71px;font-size:11.8px;color:#ffffff;transform-origin:0 0;transform:scaleX(0.8583);will-change:transform;-webkit-text-stroke:0.3px currentColor;">SMA:MA</div>
<div style="position:absolute;left:1184.0px;top:338.0px;width:43.0px;height:17.0px;background:#f23645;border-radius:0 2px 2px 0;"></div>
<div class="t" style="left:1192.66px;top:341.71px;font-size:11.8px;color:#ffffff;transform-origin:0 0;transform:scaleX(1.0093);will-change:transform;-webkit-text-stroke:0.3px currentColor;">4.619</div>
<div style="position:absolute;left:1157.0px;top:607.0px;width:26.0px;height:17.0px;background:#9d55c3;border-radius:2px 0 0 2px;"></div>
<div class="t" style="left:1162.43px;top:610.61px;font-size:11.8px;color:#ffffff;transform-origin:0 0;transform:scaleX(0.8136);will-change:transform;-webkit-text-stroke:0.3px currentColor;">RSI</div>
<div style="position:absolute;left:1184.0px;top:607.0px;width:43.0px;height:17.0px;background:#9d55c3;border-radius:0 2px 2px 0;"></div>
<div class="t" style="left:1192.20px;top:610.61px;font-size:11.8px;color:#ffffff;transform-origin:0 0;transform:scaleX(1.0092);will-change:transform;-webkit-text-stroke:0.3px currentColor;">66.25</div>
<div class="t" style="left:304.99px;top:534.41px;font-size:11.8px;color:#9b1c1f;transform-origin:0 0;transform:scaleX(1.0310);will-change:transform;-webkit-text-stroke:0.3px currentColor;">Cup and handle pattern</div>
<svg width="20" height="10" viewBox="0 0 36 18" preserveAspectRatio="none" style="left:10px;top:782.2px;"><path d="M14 18H7V7H0V0h14v18zM28.5 18H20.5L27.5 0h8l-7 18z" fill="#131722"/><circle cx="20" cy="3.8" r="3.8" fill="#131722"/></svg>
<div class="t" style="left:32.74px;top:781.60px;font-size:12.4px;color:#131722;transform-origin:0 0;transform:scaleX(1.0321);will-change:transform;-webkit-text-stroke:0.3px currentColor;-webkit-text-stroke:0px;">TradingView</div>
<!--AXIS-->
<!--LABELS-->
<!--FOOTER-->
</body></html>
